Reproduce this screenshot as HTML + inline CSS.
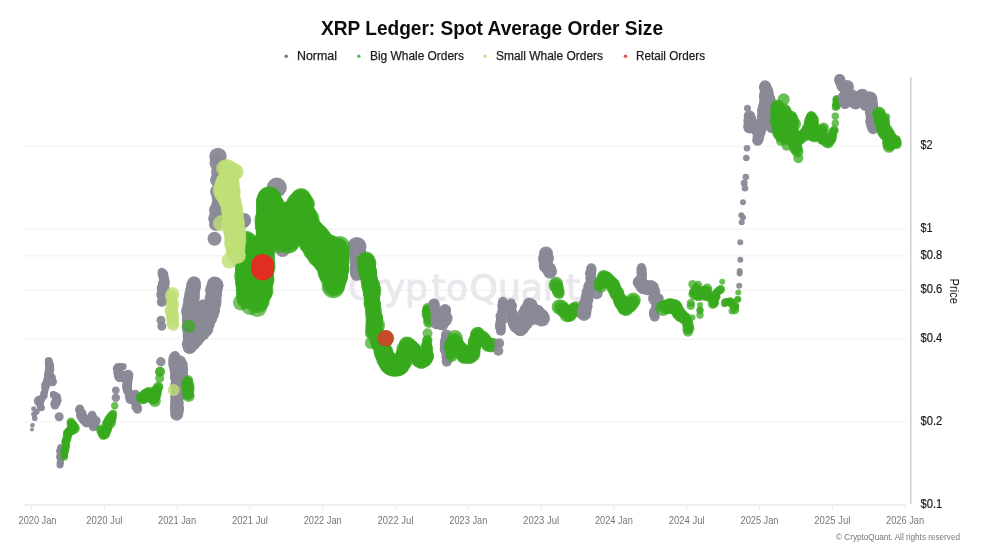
<!DOCTYPE html>
<html lang="en"><head><meta charset="utf-8"><title>XRP Ledger: Spot Average Order Size</title>
<style>
html,body{margin:0;padding:0;background:#fff;}
body{width:984px;height:554px;overflow:hidden;font-family:"Liberation Sans",sans-serif;}
svg{display:block;font-family:"Liberation Sans",sans-serif;}
</style></head><body>
<svg width="984" height="554" viewBox="0 0 984 554">
<rect width="984" height="554" fill="#fff"/>
<text x="492" y="35" text-anchor="middle" font-size="19.5" font-weight="bold" fill="#0d0d0d" textLength="342" lengthAdjust="spacingAndGlyphs">XRP Ledger: Spot Average Order Size</text>
<g font-size="12.5" fill="#1c1c1c" stroke="#1c1c1c" stroke-width="0.25">
<circle stroke="none" cx="286.2" cy="56.3" r="1.8" fill="#7d7d85"/><text x="297" y="59.8" textLength="40" lengthAdjust="spacingAndGlyphs">Normal</text>
<circle stroke="none" cx="358.8" cy="56.3" r="1.8" fill="#5cb85c"/><text x="370" y="59.8" textLength="94" lengthAdjust="spacingAndGlyphs">Big Whale Orders</text>
<circle stroke="none" cx="485" cy="56.3" r="1.8" fill="#c5e08a"/><text x="496" y="59.8" textLength="107" lengthAdjust="spacingAndGlyphs">Small Whale Orders</text>
<circle stroke="none" cx="625.5" cy="56.3" r="1.8" fill="#e0524d"/><text x="636" y="59.8" textLength="69" lengthAdjust="spacingAndGlyphs">Retail Orders</text>
</g>
<g><line x1="24" x2="905" y1="421.9" y2="421.9" stroke="#f4f4f5" stroke-width="1.2"/><line x1="24" x2="905" y1="338.9" y2="338.9" stroke="#f4f4f5" stroke-width="1.2"/><line x1="24" x2="905" y1="290.4" y2="290.4" stroke="#f4f4f5" stroke-width="1.2"/><line x1="24" x2="905" y1="255.9" y2="255.9" stroke="#f4f4f5" stroke-width="1.2"/><line x1="24" x2="905" y1="229.2" y2="229.2" stroke="#f4f4f5" stroke-width="1.2"/><line x1="24" x2="905" y1="146.2" y2="146.2" stroke="#f4f4f5" stroke-width="1.2"/></g>
<text x="348 370.5 384 405 431.5 446 469.6 498 520.8 543 566" y="300" font-family="'DejaVu Sans','Liberation Sans',sans-serif" font-size="36" fill="#e8e8ed" stroke="#e8e8ed" stroke-width="1.1">CryptoQuant</text>
<line x1="24" x2="905.5" y1="505" y2="505" stroke="#e8e8ea" stroke-width="1.3"/>
<line x1="31.5" x2="31.5" y1="505" y2="510" stroke="#ebebed" stroke-width="1"/><line x1="104.3" x2="104.3" y1="505" y2="510" stroke="#ebebed" stroke-width="1"/><line x1="177.1" x2="177.1" y1="505" y2="510" stroke="#ebebed" stroke-width="1"/><line x1="249.9" x2="249.9" y1="505" y2="510" stroke="#ebebed" stroke-width="1"/><line x1="322.7" x2="322.7" y1="505" y2="510" stroke="#ebebed" stroke-width="1"/><line x1="395.5" x2="395.5" y1="505" y2="510" stroke="#ebebed" stroke-width="1"/><line x1="468.3" x2="468.3" y1="505" y2="510" stroke="#ebebed" stroke-width="1"/><line x1="541.1" x2="541.1" y1="505" y2="510" stroke="#ebebed" stroke-width="1"/><line x1="613.9" x2="613.9" y1="505" y2="510" stroke="#ebebed" stroke-width="1"/><line x1="686.7" x2="686.7" y1="505" y2="510" stroke="#ebebed" stroke-width="1"/><line x1="759.5" x2="759.5" y1="505" y2="510" stroke="#ebebed" stroke-width="1"/><line x1="832.3" x2="832.3" y1="505" y2="510" stroke="#ebebed" stroke-width="1"/><line x1="905.1" x2="905.1" y1="505" y2="510" stroke="#ebebed" stroke-width="1"/>
<line x1="910.8" x2="910.8" y1="77" y2="504" stroke="#cfcfd2" stroke-width="1.5"/>
<g font-size="11" fill="#777"><text x="37.5" y="523.5" text-anchor="middle" textLength="38" lengthAdjust="spacingAndGlyphs">2020 Jan</text><text x="104.3" y="523.5" text-anchor="middle" textLength="36" lengthAdjust="spacingAndGlyphs">2020 Jul</text><text x="177.1" y="523.5" text-anchor="middle" textLength="38" lengthAdjust="spacingAndGlyphs">2021 Jan</text><text x="249.9" y="523.5" text-anchor="middle" textLength="36" lengthAdjust="spacingAndGlyphs">2021 Jul</text><text x="322.7" y="523.5" text-anchor="middle" textLength="38" lengthAdjust="spacingAndGlyphs">2022 Jan</text><text x="395.5" y="523.5" text-anchor="middle" textLength="36" lengthAdjust="spacingAndGlyphs">2022 Jul</text><text x="468.3" y="523.5" text-anchor="middle" textLength="38" lengthAdjust="spacingAndGlyphs">2023 Jan</text><text x="541.1" y="523.5" text-anchor="middle" textLength="36" lengthAdjust="spacingAndGlyphs">2023 Jul</text><text x="613.9" y="523.5" text-anchor="middle" textLength="38" lengthAdjust="spacingAndGlyphs">2024 Jan</text><text x="686.7" y="523.5" text-anchor="middle" textLength="36" lengthAdjust="spacingAndGlyphs">2024 Jul</text><text x="759.5" y="523.5" text-anchor="middle" textLength="38" lengthAdjust="spacingAndGlyphs">2025 Jan</text><text x="832.3" y="523.5" text-anchor="middle" textLength="36" lengthAdjust="spacingAndGlyphs">2025 Jul</text><text x="905.1" y="523.5" text-anchor="middle" textLength="38" lengthAdjust="spacingAndGlyphs">2026 Jan</text></g>
<g font-size="12.5" fill="#1c1c1c" stroke="#1c1c1c" stroke-width="0.2"><text x="920.5" y="507.7" textLength="21.8" lengthAdjust="spacingAndGlyphs">$0.1</text><text x="920.5" y="424.7" textLength="21.8" lengthAdjust="spacingAndGlyphs">$0.2</text><text x="920.5" y="341.7" textLength="21.8" lengthAdjust="spacingAndGlyphs">$0.4</text><text x="920.5" y="293.2" textLength="21.8" lengthAdjust="spacingAndGlyphs">$0.6</text><text x="920.5" y="258.7" textLength="21.8" lengthAdjust="spacingAndGlyphs">$0.8</text><text x="920.5" y="232.0" textLength="12" lengthAdjust="spacingAndGlyphs">$1</text><text x="920.5" y="149.0" textLength="12" lengthAdjust="spacingAndGlyphs">$2</text></g>
<text transform="translate(950,291.2) rotate(90)" text-anchor="middle" font-size="12.5" fill="#1c1c1c" textLength="25.5" lengthAdjust="spacingAndGlyphs">Price</text>
<text x="836" y="539.8" font-size="9" fill="#777" textLength="124" lengthAdjust="spacingAndGlyphs">© CryptoQuant. All rights reserved</text>
<g id="bubbles">
<g fill="#8a8997" fill-opacity="0.95"><circle cx="32.0" cy="429.5" r="2.0"/><circle cx="32.5" cy="425.3" r="2.3"/><circle cx="34.7" cy="418.3" r="2.8"/><circle cx="34.2" cy="414.2" r="3.0"/><circle cx="33.7" cy="408.7" r="2.5"/><circle cx="36.7" cy="411.7" r="3.0"/></g>
<g fill="#8a8997" fill-opacity="0.95"><circle cx="41.4" cy="407.7" r="3.5"/><circle cx="40.4" cy="406.9" r="3.5"/><circle cx="39.9" cy="405.3" r="3.5"/><circle cx="40.1" cy="403.0" r="3.7"/><circle cx="39.6" cy="402.9" r="3.9"/><circle cx="38.7" cy="401.0" r="4.9"/><circle cx="40.6" cy="399.7" r="4.5"/><circle cx="40.9" cy="399.6" r="3.6"/><circle cx="42.4" cy="397.3" r="3.2"/><circle cx="44.0" cy="396.2" r="3.4"/><circle cx="44.1" cy="395.2" r="3.4"/><circle cx="43.4" cy="393.4" r="3.2"/><circle cx="44.7" cy="392.6" r="3.2"/><circle cx="44.8" cy="391.2" r="3.2"/><circle cx="45.3" cy="390.1" r="3.2"/><circle cx="45.1" cy="388.3" r="3.6"/><circle cx="45.8" cy="386.6" r="3.9"/><circle cx="45.0" cy="385.5" r="3.9"/><circle cx="45.4" cy="384.3" r="3.6"/><circle cx="46.7" cy="383.5" r="4.2"/><circle cx="47.4" cy="381.4" r="4.5"/><circle cx="47.3" cy="380.4" r="4.2"/><circle cx="48.2" cy="379.6" r="4.2"/><circle cx="48.3" cy="376.6" r="4.4"/><circle cx="48.7" cy="376.9" r="4.4"/><circle cx="48.5" cy="374.4" r="4.3"/><circle cx="48.4" cy="373.1" r="3.8"/><circle cx="49.0" cy="370.9" r="4.3"/><circle cx="49.0" cy="369.7" r="3.9"/><circle cx="50.2" cy="367.8" r="3.9"/><circle cx="49.6" cy="367.7" r="4.2"/><circle cx="50.1" cy="365.1" r="3.9"/><circle cx="49.1" cy="364.6" r="4.3"/><circle cx="48.6" cy="361.8" r="3.7"/><circle cx="48.7" cy="360.8" r="3.9"/><circle cx="48.8" cy="361.5" r="3.8"/><circle cx="49.1" cy="364.0" r="4.3"/><circle cx="49.8" cy="365.5" r="4.0"/><circle cx="49.8" cy="366.2" r="4.3"/><circle cx="50.1" cy="369.3" r="4.2"/><circle cx="49.4" cy="370.0" r="3.7"/><circle cx="49.9" cy="370.9" r="3.7"/><circle cx="49.6" cy="372.5" r="3.9"/><circle cx="49.7" cy="373.7" r="3.8"/><circle cx="50.2" cy="375.7" r="3.7"/><circle cx="52.0" cy="377.6" r="3.9"/><circle cx="51.3" cy="378.6" r="4.1"/><circle cx="51.4" cy="380.9" r="4.7"/><circle cx="52.5" cy="381.7" r="4.5"/></g>
<g fill="#8a8997" fill-opacity="0.95"><circle cx="53.2" cy="394.2" r="3.2"/><circle cx="53.4" cy="394.9" r="3.6"/><circle cx="55.6" cy="395.6" r="3.5"/><circle cx="56.7" cy="397.3" r="3.8"/><circle cx="56.8" cy="397.4" r="4.3"/><circle cx="57.2" cy="400.3" r="4.5"/><circle cx="55.6" cy="400.7" r="4.0"/><circle cx="56.2" cy="402.4" r="4.6"/><circle cx="55.0" cy="403.2" r="4.6"/><circle cx="55.0" cy="405.0" r="4.5"/></g>
<g fill="#8a8997" fill-opacity="0.95"><circle cx="59.2" cy="416.7" r="4.5"/></g>
<g fill="#8a8997" fill-opacity="0.95"><circle cx="60.8" cy="447.6" r="3.6"/><circle cx="60.5" cy="448.9" r="3.2"/><circle cx="60.0" cy="449.8" r="3.0"/><circle cx="59.2" cy="451.1" r="3.2"/><circle cx="60.3" cy="453.7" r="3.3"/><circle cx="60.7" cy="455.3" r="3.7"/><circle cx="59.8" cy="455.6" r="3.2"/><circle cx="59.5" cy="457.0" r="3.4"/><circle cx="60.6" cy="459.5" r="3.3"/><circle cx="60.2" cy="461.0" r="3.1"/><circle cx="60.3" cy="462.7" r="3.6"/><circle cx="60.4" cy="463.5" r="3.1"/><circle cx="60.0" cy="465.0" r="3.5"/></g>
<g fill="#38a91e" fill-opacity="0.75"><circle cx="64.2" cy="457.2" r="3.6"/><circle cx="64.6" cy="455.9" r="3.4"/><circle cx="64.8" cy="455.0" r="3.3"/><circle cx="63.7" cy="452.7" r="3.9"/><circle cx="64.9" cy="451.2" r="3.9"/><circle cx="65.4" cy="450.6" r="3.6"/><circle cx="64.9" cy="448.3" r="3.4"/><circle cx="65.8" cy="447.7" r="3.9"/><circle cx="65.9" cy="445.9" r="4.2"/><circle cx="66.0" cy="444.0" r="3.8"/><circle cx="65.4" cy="442.5" r="4.2"/><circle cx="65.6" cy="441.2" r="3.9"/><circle cx="66.9" cy="439.6" r="4.3"/><circle cx="66.6" cy="438.9" r="4.3"/><circle cx="67.4" cy="436.7" r="4.5"/><circle cx="67.6" cy="434.5" r="4.5"/><circle cx="67.8" cy="433.1" r="4.9"/><circle cx="68.7" cy="432.4" r="4.9"/><circle cx="70.1" cy="430.7" r="4.8"/><circle cx="71.2" cy="430.6" r="4.8"/><circle cx="72.3" cy="428.8" r="5.4"/><circle cx="73.7" cy="428.3" r="6.1"/><circle cx="73.2" cy="427.6" r="5.6"/><circle cx="72.5" cy="425.7" r="5.3"/><circle cx="72.1" cy="424.3" r="4.9"/><circle cx="71.3" cy="423.7" r="4.6"/><circle cx="70.8" cy="421.7" r="4.2"/></g>
<g fill="#8a8997" fill-opacity="0.95"><circle cx="79.9" cy="408.3" r="3.8"/><circle cx="79.8" cy="409.6" r="4.5"/><circle cx="79.5" cy="409.5" r="4.3"/><circle cx="79.9" cy="411.1" r="4.1"/><circle cx="81.5" cy="413.4" r="5.0"/><circle cx="81.1" cy="414.6" r="5.0"/><circle cx="81.8" cy="416.2" r="5.3"/><circle cx="82.6" cy="417.6" r="4.8"/><circle cx="83.8" cy="419.0" r="5.4"/><circle cx="83.9" cy="419.3" r="5.1"/><circle cx="85.0" cy="420.2" r="4.9"/><circle cx="86.4" cy="421.1" r="5.3"/><circle cx="86.6" cy="422.4" r="5.1"/><circle cx="87.9" cy="422.1" r="4.6"/><circle cx="89.5" cy="421.3" r="5.3"/><circle cx="88.9" cy="419.1" r="4.2"/><circle cx="91.1" cy="417.9" r="4.1"/><circle cx="91.4" cy="417.8" r="4.5"/><circle cx="92.1" cy="415.2" r="4.4"/><circle cx="93.3" cy="417.6" r="3.9"/><circle cx="93.0" cy="419.1" r="4.3"/><circle cx="93.6" cy="421.0" r="4.7"/><circle cx="95.5" cy="421.0" r="5.2"/><circle cx="93.8" cy="423.6" r="4.6"/><circle cx="93.9" cy="424.3" r="5.0"/><circle cx="93.3" cy="424.8" r="4.5"/><circle cx="93.3" cy="426.7" r="4.5"/></g>
<g fill="#38a91e" fill-opacity="0.75"><circle cx="101.2" cy="429.3" r="4.9"/><circle cx="101.5" cy="430.9" r="5.1"/><circle cx="102.6" cy="433.4" r="5.0"/><circle cx="103.6" cy="433.8" r="5.1"/><circle cx="103.3" cy="435.4" r="4.7"/><circle cx="105.1" cy="434.4" r="4.9"/><circle cx="105.1" cy="433.6" r="4.7"/><circle cx="106.2" cy="431.3" r="5.0"/><circle cx="106.7" cy="429.7" r="5.0"/><circle cx="106.9" cy="429.3" r="4.7"/><circle cx="107.6" cy="427.4" r="4.9"/><circle cx="107.4" cy="425.5" r="4.6"/><circle cx="107.5" cy="423.7" r="5.6"/><circle cx="108.4" cy="422.7" r="5.1"/><circle cx="110.0" cy="422.7" r="6.0"/><circle cx="109.6" cy="420.3" r="5.8"/><circle cx="110.6" cy="418.7" r="5.5"/><circle cx="110.9" cy="418.6" r="5.5"/><circle cx="112.1" cy="415.8" r="5.0"/><circle cx="112.3" cy="414.5" r="3.6"/><circle cx="113.3" cy="413.3" r="3.7"/></g>
<g fill="#38a91e" fill-opacity="0.75"><circle cx="114.7" cy="405.8" r="3.7"/></g>
<g fill="#8a8997" fill-opacity="0.95"><circle cx="115.8" cy="397.8" r="4.2"/><circle cx="115.8" cy="390.3" r="3.8"/></g>
<g fill="#8a8997" fill-opacity="0.95"><circle cx="123.1" cy="366.7" r="3.6"/><circle cx="121.3" cy="367.1" r="3.4"/><circle cx="120.0" cy="366.8" r="3.9"/><circle cx="118.1" cy="367.0" r="4.0"/><circle cx="117.0" cy="368.5" r="4.3"/><circle cx="118.1" cy="370.0" r="4.6"/><circle cx="118.4" cy="370.9" r="4.3"/><circle cx="118.8" cy="371.9" r="4.8"/><circle cx="118.3" cy="373.1" r="5.0"/><circle cx="118.9" cy="375.5" r="4.9"/><circle cx="118.9" cy="376.1" r="4.8"/><circle cx="119.7" cy="377.2" r="5.1"/><circle cx="121.7" cy="376.6" r="5.2"/><circle cx="122.9" cy="376.7" r="4.5"/><circle cx="123.2" cy="375.5" r="4.7"/><circle cx="124.7" cy="376.7" r="4.9"/><circle cx="127.1" cy="376.2" r="5.0"/><circle cx="128.3" cy="374.9" r="5.1"/><circle cx="128.4" cy="377.3" r="4.8"/><circle cx="127.9" cy="378.0" r="5.0"/><circle cx="126.9" cy="379.5" r="4.6"/><circle cx="127.4" cy="381.3" r="5.0"/><circle cx="127.6" cy="383.3" r="4.7"/><circle cx="127.0" cy="385.1" r="5.0"/><circle cx="127.6" cy="386.6" r="4.3"/><circle cx="127.0" cy="387.4" r="4.9"/><circle cx="127.6" cy="389.4" r="4.1"/><circle cx="127.5" cy="390.4" r="4.7"/><circle cx="129.1" cy="392.6" r="4.3"/><circle cx="129.2" cy="393.8" r="4.5"/><circle cx="128.9" cy="396.1" r="4.2"/><circle cx="130.8" cy="397.7" r="4.1"/><circle cx="130.3" cy="399.0" r="5.0"/><circle cx="130.7" cy="399.6" r="4.2"/><circle cx="132.4" cy="398.1" r="4.5"/><circle cx="131.8" cy="397.4" r="4.6"/><circle cx="132.7" cy="396.6" r="4.1"/><circle cx="134.9" cy="395.0" r="3.8"/><circle cx="135.7" cy="393.3" r="3.5"/><circle cx="134.1" cy="394.7" r="3.9"/><circle cx="134.6" cy="395.5" r="3.8"/><circle cx="134.7" cy="398.2" r="3.6"/><circle cx="135.5" cy="399.6" r="3.8"/><circle cx="135.8" cy="400.8" r="4.5"/><circle cx="134.6" cy="401.6" r="4.2"/><circle cx="135.9" cy="403.5" r="4.2"/><circle cx="135.5" cy="404.4" r="3.9"/><circle cx="135.5" cy="406.9" r="4.1"/><circle cx="137.7" cy="407.3" r="4.1"/><circle cx="137.5" cy="409.2" r="4.5"/></g>
<g fill="#38a91e" fill-opacity="0.75"><circle cx="140.8" cy="397.7" r="5.1"/><circle cx="142.7" cy="398.2" r="6.0"/><circle cx="143.2" cy="397.5" r="6.5"/><circle cx="144.1" cy="396.4" r="5.7"/><circle cx="145.9" cy="395.3" r="6.7"/><circle cx="147.1" cy="394.4" r="5.9"/><circle cx="149.1" cy="393.5" r="6.7"/><circle cx="148.9" cy="394.8" r="6.9"/><circle cx="151.0" cy="395.6" r="6.6"/><circle cx="150.6" cy="397.1" r="6.1"/><circle cx="151.5" cy="397.4" r="5.8"/><circle cx="153.9" cy="399.0" r="5.8"/><circle cx="154.9" cy="400.9" r="6.0"/><circle cx="154.0" cy="397.9" r="5.4"/><circle cx="154.8" cy="396.3" r="5.4"/><circle cx="155.1" cy="395.6" r="5.9"/><circle cx="156.4" cy="393.8" r="5.2"/><circle cx="156.5" cy="392.3" r="5.0"/><circle cx="156.1" cy="390.7" r="5.6"/><circle cx="156.7" cy="389.6" r="5.1"/><circle cx="158.5" cy="387.6" r="4.7"/><circle cx="158.3" cy="386.7" r="5.0"/></g>
<g fill="#38a91e" fill-opacity="0.75"><circle cx="159.7" cy="378.3" r="4.5"/></g>
<g fill="#38a91e" fill-opacity="0.90"><circle cx="160.0" cy="371.7" r="5.0"/></g>
<g fill="#8a8997" fill-opacity="0.95"><circle cx="160.8" cy="361.7" r="4.7"/></g>
<g fill="#8a8997" fill-opacity="0.95"><circle cx="174.6" cy="358.1" r="6.0"/><circle cx="175.9" cy="360.4" r="6.5"/><circle cx="174.6" cy="360.6" r="6.4"/><circle cx="176.1" cy="362.8" r="6.2"/><circle cx="174.9" cy="364.2" r="6.7"/><circle cx="176.4" cy="366.5" r="6.8"/><circle cx="175.6" cy="366.8" r="5.7"/><circle cx="176.2" cy="369.2" r="6.8"/><circle cx="176.7" cy="370.7" r="6.6"/><circle cx="176.4" cy="372.1" r="5.6"/><circle cx="177.0" cy="373.1" r="6.8"/><circle cx="176.9" cy="374.7" r="5.8"/><circle cx="176.4" cy="376.7" r="6.5"/><circle cx="176.2" cy="377.3" r="6.3"/><circle cx="177.0" cy="379.3" r="5.9"/><circle cx="177.2" cy="380.2" r="6.0"/><circle cx="177.0" cy="383.2" r="6.4"/><circle cx="177.8" cy="384.0" r="5.9"/><circle cx="176.8" cy="386.2" r="6.5"/><circle cx="177.0" cy="386.2" r="6.2"/><circle cx="177.7" cy="388.4" r="5.9"/><circle cx="177.8" cy="390.7" r="5.9"/><circle cx="176.7" cy="391.2" r="6.1"/><circle cx="177.7" cy="392.5" r="6.6"/><circle cx="177.7" cy="394.5" r="5.9"/><circle cx="178.1" cy="395.7" r="6.7"/><circle cx="176.8" cy="397.1" r="6.6"/><circle cx="176.9" cy="399.7" r="6.2"/><circle cx="176.6" cy="400.1" r="6.1"/><circle cx="177.4" cy="402.7" r="5.8"/><circle cx="176.9" cy="403.0" r="6.9"/><circle cx="176.4" cy="404.3" r="5.7"/><circle cx="176.8" cy="407.2" r="6.7"/><circle cx="177.3" cy="408.9" r="6.8"/><circle cx="176.6" cy="409.1" r="6.8"/><circle cx="177.2" cy="410.4" r="6.5"/><circle cx="176.6" cy="412.5" r="6.0"/><circle cx="176.7" cy="414.2" r="6.5"/></g>
<g fill="#8a8997" fill-opacity="0.95"><circle cx="180.4" cy="361.1" r="5.5"/><circle cx="180.9" cy="364.3" r="5.3"/><circle cx="182.2" cy="364.5" r="5.5"/><circle cx="182.1" cy="367.1" r="5.6"/><circle cx="180.9" cy="368.0" r="5.5"/><circle cx="182.6" cy="368.9" r="5.4"/><circle cx="182.7" cy="370.2" r="5.4"/><circle cx="182.7" cy="373.0" r="5.0"/><circle cx="181.5" cy="373.2" r="5.9"/><circle cx="182.1" cy="375.9" r="5.8"/><circle cx="182.4" cy="376.6" r="5.9"/><circle cx="183.0" cy="378.1" r="5.6"/><circle cx="182.7" cy="379.6" r="4.7"/><circle cx="183.4" cy="382.2" r="5.4"/><circle cx="183.6" cy="382.1" r="4.9"/><circle cx="182.7" cy="385.3" r="5.6"/><circle cx="182.4" cy="385.6" r="5.0"/><circle cx="182.5" cy="388.3" r="4.7"/><circle cx="182.9" cy="389.4" r="5.3"/><circle cx="182.8" cy="390.7" r="4.8"/><circle cx="181.9" cy="391.8" r="5.2"/><circle cx="181.3" cy="393.0" r="5.1"/><circle cx="182.0" cy="395.0" r="5.0"/></g>
<g fill="#8a8997" fill-opacity="0.95"><circle cx="161.8" cy="272.0" r="4.3"/><circle cx="162.9" cy="274.0" r="5.3"/><circle cx="164.0" cy="276.6" r="4.6"/><circle cx="163.1" cy="276.5" r="4.8"/><circle cx="164.7" cy="278.6" r="4.5"/><circle cx="164.0" cy="280.3" r="5.1"/><circle cx="164.5" cy="282.1" r="5.3"/><circle cx="163.2" cy="283.5" r="5.1"/><circle cx="163.9" cy="284.0" r="5.7"/><circle cx="163.1" cy="285.2" r="5.3"/><circle cx="162.9" cy="287.7" r="5.9"/><circle cx="163.1" cy="288.2" r="6.3"/><circle cx="163.2" cy="289.3" r="6.0"/><circle cx="163.4" cy="292.0" r="5.1"/><circle cx="162.9" cy="293.1" r="5.8"/><circle cx="163.6" cy="293.1" r="5.1"/><circle cx="162.0" cy="294.7" r="5.8"/><circle cx="162.7" cy="297.4" r="5.0"/><circle cx="163.0" cy="297.9" r="4.8"/><circle cx="162.7" cy="300.1" r="4.6"/><circle cx="162.2" cy="300.9" r="4.6"/><circle cx="161.8" cy="302.0" r="5.0"/></g>
<g fill="#8a8997" fill-opacity="0.95"><circle cx="161.0" cy="320.3" r="4.5"/><circle cx="161.8" cy="326.2" r="4.5"/></g>
<g fill="#8a8997" fill-opacity="0.95"><circle cx="175.0" cy="356.0" r="5.0"/></g>
<g fill="#8a8997" fill-opacity="0.95"><circle cx="194.1" cy="283.1" r="6.8"/><circle cx="193.6" cy="285.3" r="7.4"/><circle cx="193.3" cy="285.7" r="6.9"/><circle cx="193.9" cy="287.4" r="6.9"/><circle cx="192.8" cy="290.0" r="7.3"/><circle cx="192.4" cy="290.1" r="7.0"/><circle cx="193.0" cy="292.5" r="6.6"/><circle cx="192.1" cy="294.1" r="7.1"/><circle cx="192.1" cy="294.8" r="7.9"/><circle cx="191.9" cy="296.7" r="7.0"/><circle cx="191.8" cy="298.7" r="7.9"/><circle cx="191.5" cy="299.0" r="7.5"/><circle cx="190.9" cy="300.2" r="7.8"/><circle cx="191.0" cy="303.2" r="7.1"/><circle cx="191.6" cy="304.2" r="6.7"/><circle cx="189.7" cy="305.9" r="7.4"/><circle cx="191.1" cy="306.6" r="7.4"/><circle cx="189.8" cy="308.9" r="6.7"/><circle cx="189.4" cy="310.5" r="7.8"/><circle cx="188.8" cy="312.0" r="7.7"/><circle cx="190.4" cy="313.0" r="6.6"/><circle cx="190.3" cy="315.9" r="7.1"/><circle cx="188.7" cy="317.3" r="6.9"/><circle cx="190.3" cy="318.2" r="7.5"/><circle cx="189.0" cy="320.0" r="6.6"/><circle cx="189.4" cy="321.6" r="7.4"/><circle cx="189.0" cy="322.0" r="6.8"/><circle cx="189.7" cy="323.8" r="6.3"/><circle cx="189.2" cy="325.9" r="7.4"/><circle cx="188.8" cy="327.1" r="7.2"/><circle cx="188.9" cy="329.1" r="6.2"/><circle cx="189.9" cy="330.1" r="6.9"/><circle cx="189.4" cy="331.4" r="6.8"/><circle cx="189.6" cy="333.4" r="6.6"/><circle cx="189.6" cy="333.8" r="6.9"/><circle cx="189.7" cy="335.7" r="7.1"/><circle cx="190.2" cy="337.7" r="6.3"/><circle cx="189.7" cy="338.6" r="6.2"/><circle cx="189.6" cy="340.1" r="6.6"/><circle cx="189.7" cy="341.5" r="6.9"/><circle cx="188.9" cy="344.3" r="7.1"/><circle cx="189.7" cy="344.7" r="6.7"/><circle cx="189.7" cy="347.0" r="7.0"/></g>
<g fill="#8a8997" fill-opacity="0.95"><circle cx="214.5" cy="283.6" r="7.1"/><circle cx="215.2" cy="285.3" r="8.1"/><circle cx="215.0" cy="285.4" r="8.5"/><circle cx="214.4" cy="288.3" r="8.3"/><circle cx="213.7" cy="289.6" r="8.4"/><circle cx="213.4" cy="290.3" r="8.1"/><circle cx="213.4" cy="292.9" r="7.3"/><circle cx="214.5" cy="293.1" r="7.7"/><circle cx="214.6" cy="294.8" r="7.3"/><circle cx="213.7" cy="296.5" r="6.9"/><circle cx="213.0" cy="297.8" r="8.4"/><circle cx="213.8" cy="300.7" r="7.1"/><circle cx="213.8" cy="300.8" r="7.7"/><circle cx="213.2" cy="302.7" r="8.2"/><circle cx="212.8" cy="304.6" r="8.1"/><circle cx="211.8" cy="306.9" r="7.7"/><circle cx="212.1" cy="308.0" r="7.1"/><circle cx="212.9" cy="309.1" r="7.2"/><circle cx="212.2" cy="310.4" r="6.8"/><circle cx="211.9" cy="311.2" r="7.8"/><circle cx="210.8" cy="313.8" r="8.0"/><circle cx="211.2" cy="315.3" r="6.9"/><circle cx="209.7" cy="315.6" r="6.6"/><circle cx="210.3" cy="317.8" r="7.1"/><circle cx="210.4" cy="318.7" r="6.6"/><circle cx="209.5" cy="319.9" r="6.3"/><circle cx="208.5" cy="321.5" r="6.7"/><circle cx="207.8" cy="323.8" r="7.0"/><circle cx="207.4" cy="325.3" r="6.8"/><circle cx="206.8" cy="327.3" r="6.4"/><circle cx="206.4" cy="327.3" r="6.9"/><circle cx="206.7" cy="329.7" r="6.5"/><circle cx="204.6" cy="329.4" r="6.8"/><circle cx="204.1" cy="331.2" r="6.7"/><circle cx="202.9" cy="333.4" r="6.8"/><circle cx="201.5" cy="334.4" r="5.8"/><circle cx="201.1" cy="334.7" r="6.0"/><circle cx="200.0" cy="336.0" r="6.5"/></g>
<g fill="#8a8997" fill-opacity="0.95"><circle cx="203.2" cy="304.5" r="5.2"/><circle cx="203.6" cy="306.1" r="5.6"/><circle cx="202.5" cy="306.9" r="6.4"/><circle cx="202.8" cy="308.6" r="6.3"/><circle cx="201.7" cy="309.0" r="6.4"/><circle cx="202.2" cy="311.2" r="7.7"/><circle cx="200.1" cy="312.6" r="8.1"/><circle cx="200.5" cy="313.8" r="7.5"/><circle cx="199.7" cy="314.1" r="7.1"/><circle cx="199.0" cy="315.9" r="7.8"/><circle cx="199.8" cy="318.2" r="7.6"/><circle cx="198.6" cy="319.1" r="7.1"/><circle cx="199.1" cy="320.4" r="6.8"/><circle cx="198.5" cy="322.6" r="6.6"/><circle cx="198.5" cy="322.3" r="6.6"/><circle cx="196.9" cy="325.0" r="7.4"/><circle cx="197.4" cy="325.7" r="7.3"/><circle cx="196.3" cy="327.0" r="7.2"/><circle cx="196.5" cy="329.3" r="6.7"/><circle cx="196.7" cy="330.4" r="6.8"/><circle cx="195.9" cy="332.6" r="6.2"/><circle cx="195.5" cy="333.6" r="5.9"/><circle cx="194.2" cy="335.2" r="5.5"/><circle cx="195.1" cy="335.9" r="5.3"/><circle cx="194.0" cy="338.0" r="6.0"/></g>
<g fill="#8a8997" fill-opacity="0.95"><circle cx="189.3" cy="346.8" r="6.5"/><circle cx="190.5" cy="344.2" r="5.9"/><circle cx="192.7" cy="344.2" r="6.7"/><circle cx="193.9" cy="342.2" r="6.4"/><circle cx="194.4" cy="342.6" r="6.5"/><circle cx="196.5" cy="340.2" r="6.4"/><circle cx="197.7" cy="340.8" r="5.3"/><circle cx="197.2" cy="338.1" r="5.2"/><circle cx="199.1" cy="338.1" r="5.9"/><circle cx="199.8" cy="336.5" r="5.5"/><circle cx="200.0" cy="335.0" r="6.0"/></g>
<g fill="#8a8997" fill-opacity="0.95"><circle cx="218.0" cy="156.5" r="8.7"/><circle cx="217.5" cy="163.0" r="8.0"/><circle cx="218.0" cy="172.0" r="7.0"/><circle cx="217.5" cy="180.0" r="7.5"/><circle cx="217.0" cy="191.7" r="7.0"/><circle cx="219.0" cy="203.3" r="7.5"/><circle cx="218.5" cy="197.0" r="7.0"/><circle cx="216.5" cy="210.0" r="7.5"/><circle cx="216.2" cy="218.3" r="8.0"/><circle cx="216.0" cy="224.0" r="7.0"/><circle cx="214.5" cy="238.7" r="7.0"/></g>
<g fill="#8a8997" fill-opacity="0.95"><circle cx="243.0" cy="221.5" r="7.0"/><circle cx="244.3" cy="220.0" r="7.0"/></g>
<g fill="#8a8997" fill-opacity="0.95"><circle cx="276.8" cy="187.5" r="10.0"/><circle cx="282.7" cy="250.0" r="7.0"/><circle cx="357.5" cy="246.7" r="9.0"/></g>
<g fill="#8a8997" fill-opacity="0.95"><circle cx="356.8" cy="246.0" r="9.1"/><circle cx="356.9" cy="247.9" r="8.3"/><circle cx="356.5" cy="249.3" r="7.9"/><circle cx="357.7" cy="251.1" r="7.8"/><circle cx="358.1" cy="252.8" r="8.4"/><circle cx="357.5" cy="253.5" r="7.5"/><circle cx="357.1" cy="256.4" r="7.2"/><circle cx="357.5" cy="257.5" r="6.9"/><circle cx="357.8" cy="258.2" r="7.6"/><circle cx="356.5" cy="259.6" r="6.5"/><circle cx="357.5" cy="262.9" r="6.0"/><circle cx="357.0" cy="263.4" r="7.0"/><circle cx="356.4" cy="264.9" r="6.3"/><circle cx="357.5" cy="265.9" r="7.0"/><circle cx="356.5" cy="267.3" r="6.6"/><circle cx="356.8" cy="268.5" r="6.4"/><circle cx="356.0" cy="271.2" r="6.3"/><circle cx="357.3" cy="272.3" r="5.8"/><circle cx="356.6" cy="273.4" r="6.3"/><circle cx="356.7" cy="275.0" r="6.0"/></g>
<g fill="#38a91e" fill-opacity="0.75"><circle cx="246.3" cy="240.7" r="8.7"/><circle cx="246.3" cy="241.1" r="10.4"/><circle cx="246.7" cy="242.9" r="10.4"/><circle cx="246.1" cy="244.5" r="9.7"/><circle cx="246.8" cy="246.6" r="9.9"/><circle cx="246.0" cy="247.4" r="8.9"/><circle cx="246.7" cy="249.5" r="10.1"/><circle cx="245.3" cy="250.7" r="10.1"/><circle cx="245.9" cy="251.6" r="9.5"/><circle cx="246.3" cy="253.4" r="9.0"/><circle cx="245.1" cy="255.8" r="10.3"/><circle cx="244.7" cy="256.3" r="9.1"/><circle cx="244.8" cy="258.5" r="8.9"/><circle cx="244.7" cy="259.4" r="10.6"/><circle cx="245.4" cy="260.8" r="10.5"/><circle cx="244.3" cy="262.7" r="10.6"/><circle cx="245.5" cy="264.8" r="9.5"/><circle cx="244.5" cy="266.1" r="8.8"/><circle cx="244.5" cy="267.2" r="8.7"/><circle cx="244.8" cy="269.3" r="10.0"/><circle cx="245.0" cy="270.5" r="9.5"/><circle cx="244.4" cy="272.0" r="9.4"/><circle cx="245.4" cy="274.0" r="9.5"/><circle cx="245.1" cy="275.2" r="9.4"/><circle cx="244.5" cy="276.6" r="10.4"/><circle cx="245.5" cy="278.0" r="10.3"/><circle cx="245.3" cy="279.4" r="9.5"/><circle cx="244.7" cy="280.8" r="8.8"/><circle cx="244.9" cy="282.6" r="10.0"/><circle cx="245.2" cy="283.1" r="9.4"/><circle cx="244.9" cy="285.2" r="9.4"/><circle cx="245.4" cy="287.3" r="8.9"/><circle cx="245.5" cy="288.5" r="9.2"/><circle cx="245.3" cy="290.4" r="8.4"/><circle cx="245.5" cy="290.4" r="9.8"/><circle cx="246.3" cy="292.5" r="8.4"/><circle cx="245.7" cy="294.1" r="9.4"/><circle cx="245.7" cy="295.8" r="9.5"/><circle cx="245.8" cy="296.8" r="9.7"/><circle cx="245.4" cy="298.8" r="8.5"/><circle cx="246.0" cy="300.0" r="9.0"/></g>
<g fill="#38a91e" fill-opacity="0.75"><circle cx="264.0" cy="249.3" r="12.2"/><circle cx="263.2" cy="250.7" r="10.6"/><circle cx="263.2" cy="252.2" r="10.9"/><circle cx="263.2" cy="255.0" r="10.8"/><circle cx="262.9" cy="255.7" r="11.8"/><circle cx="264.1" cy="257.7" r="10.6"/><circle cx="263.8" cy="259.0" r="10.6"/><circle cx="262.6" cy="261.3" r="12.0"/><circle cx="263.4" cy="262.3" r="11.5"/><circle cx="262.7" cy="264.7" r="11.0"/><circle cx="263.4" cy="266.0" r="12.2"/><circle cx="263.0" cy="266.6" r="11.6"/><circle cx="262.4" cy="269.1" r="11.1"/><circle cx="263.6" cy="269.6" r="11.2"/><circle cx="262.4" cy="271.4" r="10.7"/><circle cx="261.8" cy="273.5" r="10.9"/><circle cx="262.1" cy="274.3" r="11.4"/><circle cx="262.3" cy="276.4" r="11.7"/><circle cx="262.0" cy="278.5" r="12.2"/><circle cx="261.3" cy="279.8" r="12.3"/><circle cx="262.4" cy="280.1" r="12.0"/><circle cx="262.0" cy="281.4" r="10.1"/><circle cx="262.4" cy="284.1" r="10.6"/><circle cx="260.7" cy="284.7" r="10.5"/><circle cx="261.8" cy="286.6" r="10.3"/><circle cx="261.9" cy="289.0" r="10.3"/><circle cx="261.7" cy="290.2" r="11.7"/><circle cx="261.0" cy="292.2" r="11.5"/><circle cx="261.1" cy="292.3" r="11.2"/><circle cx="260.2" cy="294.8" r="10.4"/><circle cx="260.6" cy="295.9" r="9.9"/><circle cx="259.1" cy="296.6" r="10.2"/><circle cx="258.5" cy="298.6" r="9.3"/><circle cx="259.0" cy="300.1" r="10.0"/><circle cx="259.4" cy="300.7" r="10.5"/><circle cx="258.5" cy="303.0" r="10.0"/></g>
<g fill="#38a91e" fill-opacity="0.75"><circle cx="251.9" cy="245.1" r="9.9"/><circle cx="252.6" cy="246.3" r="9.4"/><circle cx="252.8" cy="247.2" r="9.9"/><circle cx="252.2" cy="248.6" r="9.8"/><circle cx="252.3" cy="251.7" r="9.3"/><circle cx="252.9" cy="252.5" r="9.6"/><circle cx="252.7" cy="253.1" r="10.0"/><circle cx="252.2" cy="255.1" r="10.3"/><circle cx="251.8" cy="256.8" r="9.7"/><circle cx="252.5" cy="257.9" r="9.5"/><circle cx="251.9" cy="260.0" r="10.3"/><circle cx="251.6" cy="261.9" r="9.4"/><circle cx="252.0" cy="262.4" r="9.6"/><circle cx="252.9" cy="264.6" r="10.2"/><circle cx="251.7" cy="265.5" r="9.2"/><circle cx="252.2" cy="267.5" r="10.2"/><circle cx="251.2" cy="269.2" r="10.4"/><circle cx="252.1" cy="269.5" r="9.2"/><circle cx="251.1" cy="271.2" r="10.4"/><circle cx="252.2" cy="273.5" r="10.2"/><circle cx="252.7" cy="274.9" r="9.8"/><circle cx="252.2" cy="276.6" r="9.8"/><circle cx="252.3" cy="277.2" r="9.9"/><circle cx="251.9" cy="279.7" r="8.8"/><circle cx="251.4" cy="279.8" r="10.1"/><circle cx="252.7" cy="282.4" r="9.3"/><circle cx="252.6" cy="284.2" r="9.7"/><circle cx="251.6" cy="284.8" r="9.4"/><circle cx="251.7" cy="286.5" r="9.9"/><circle cx="252.8" cy="287.3" r="9.7"/><circle cx="251.2" cy="288.9" r="10.2"/><circle cx="252.1" cy="291.8" r="9.5"/><circle cx="251.1" cy="292.4" r="9.8"/><circle cx="252.8" cy="294.9" r="9.6"/><circle cx="251.8" cy="294.8" r="9.9"/><circle cx="251.5" cy="296.4" r="8.6"/><circle cx="251.1" cy="298.8" r="8.8"/><circle cx="252.0" cy="300.0" r="10.0"/></g>
<g fill="#38a91e" fill-opacity="0.70"><circle cx="241.0" cy="302.5" r="8.0"/><circle cx="257.5" cy="307.5" r="9.5"/><circle cx="250.0" cy="306.0" r="9.0"/></g>
<g fill="#38a91e" fill-opacity="0.75"><circle cx="264.8" cy="244.3" r="9.3"/><circle cx="263.5" cy="242.6" r="9.2"/><circle cx="263.8" cy="242.3" r="8.4"/><circle cx="263.7" cy="240.9" r="9.5"/><circle cx="265.3" cy="239.3" r="8.4"/><circle cx="265.0" cy="237.7" r="9.3"/><circle cx="265.7" cy="235.3" r="10.4"/><circle cx="265.5" cy="233.4" r="8.7"/><circle cx="265.5" cy="233.3" r="9.0"/><circle cx="265.0" cy="231.6" r="9.3"/><circle cx="266.2" cy="229.6" r="9.2"/><circle cx="265.5" cy="228.2" r="10.1"/><circle cx="266.2" cy="225.9" r="11.1"/><circle cx="265.8" cy="225.3" r="10.8"/><circle cx="266.0" cy="223.3" r="11.2"/><circle cx="267.2" cy="222.5" r="10.8"/><circle cx="266.2" cy="219.8" r="11.8"/><circle cx="267.1" cy="219.7" r="10.4"/><circle cx="267.1" cy="218.4" r="11.6"/><circle cx="267.3" cy="215.8" r="10.7"/><circle cx="268.0" cy="214.4" r="11.4"/><circle cx="267.6" cy="213.8" r="11.7"/><circle cx="267.3" cy="210.8" r="10.5"/><circle cx="267.7" cy="210.3" r="11.8"/><circle cx="268.7" cy="207.9" r="11.9"/><circle cx="268.8" cy="207.9" r="11.4"/><circle cx="268.0" cy="206.3" r="12.0"/><circle cx="268.9" cy="205.0" r="10.9"/><circle cx="268.0" cy="202.8" r="12.1"/><circle cx="268.4" cy="201.7" r="12.4"/><circle cx="268.6" cy="200.0" r="11.9"/><circle cx="269.3" cy="198.3" r="12.0"/></g>
<g fill="#38a91e" fill-opacity="0.75"><circle cx="269.2" cy="197.8" r="10.9"/><circle cx="270.0" cy="200.3" r="11.4"/><circle cx="269.0" cy="201.9" r="12.2"/><circle cx="269.6" cy="203.0" r="12.5"/><circle cx="271.0" cy="204.4" r="11.5"/><circle cx="270.7" cy="205.3" r="10.8"/><circle cx="270.2" cy="207.8" r="11.2"/><circle cx="271.1" cy="208.8" r="11.6"/><circle cx="270.6" cy="209.6" r="12.7"/><circle cx="271.3" cy="211.3" r="11.8"/><circle cx="272.3" cy="212.9" r="11.8"/><circle cx="271.7" cy="215.0" r="10.4"/><circle cx="272.0" cy="217.0" r="12.4"/><circle cx="273.8" cy="217.3" r="10.9"/><circle cx="275.2" cy="218.2" r="12.6"/><circle cx="276.0" cy="220.0" r="12.6"/><circle cx="276.0" cy="219.7" r="10.8"/><circle cx="276.8" cy="220.9" r="10.4"/><circle cx="278.3" cy="223.4" r="11.4"/><circle cx="279.9" cy="224.6" r="10.5"/><circle cx="280.2" cy="224.8" r="10.6"/><circle cx="281.4" cy="225.9" r="11.7"/><circle cx="281.5" cy="228.4" r="11.9"/><circle cx="281.6" cy="228.8" r="10.7"/><circle cx="283.2" cy="231.1" r="10.9"/><circle cx="282.2" cy="231.1" r="11.2"/><circle cx="284.3" cy="233.5" r="12.3"/><circle cx="283.4" cy="234.6" r="12.0"/><circle cx="285.1" cy="236.3" r="10.5"/><circle cx="284.8" cy="237.2" r="12.6"/><circle cx="286.0" cy="238.0" r="12.0"/></g>
<g fill="#38a91e" fill-opacity="0.75"><circle cx="270.3" cy="229.6" r="11.7"/><circle cx="271.5" cy="228.3" r="11.0"/><circle cx="271.7" cy="227.3" r="11.3"/><circle cx="272.6" cy="226.5" r="10.5"/><circle cx="274.6" cy="225.1" r="11.8"/><circle cx="274.8" cy="224.2" r="12.2"/><circle cx="275.9" cy="224.8" r="12.0"/><circle cx="278.2" cy="222.4" r="10.9"/><circle cx="277.8" cy="222.8" r="11.8"/><circle cx="279.9" cy="220.9" r="10.5"/><circle cx="281.3" cy="220.0" r="11.1"/><circle cx="281.1" cy="218.5" r="9.8"/><circle cx="283.2" cy="218.1" r="9.9"/><circle cx="284.6" cy="216.6" r="10.4"/><circle cx="284.4" cy="215.6" r="11.3"/><circle cx="285.8" cy="214.4" r="10.4"/><circle cx="286.9" cy="214.7" r="9.5"/><circle cx="289.2" cy="212.2" r="11.0"/><circle cx="289.8" cy="211.5" r="10.0"/><circle cx="290.2" cy="210.6" r="9.3"/><circle cx="291.5" cy="210.9" r="10.9"/><circle cx="293.6" cy="208.3" r="9.3"/><circle cx="294.7" cy="207.2" r="10.1"/><circle cx="294.5" cy="207.6" r="8.6"/><circle cx="296.3" cy="205.2" r="8.9"/><circle cx="295.7" cy="204.8" r="9.7"/><circle cx="296.9" cy="202.9" r="10.4"/><circle cx="297.9" cy="201.9" r="8.9"/><circle cx="298.7" cy="201.0" r="10.0"/><circle cx="299.6" cy="198.5" r="8.8"/><circle cx="301.0" cy="198.0" r="10.0"/></g>
<g fill="#38a91e" fill-opacity="0.75"><circle cx="301.2" cy="198.0" r="9.1"/><circle cx="300.8" cy="199.6" r="10.1"/><circle cx="302.2" cy="201.0" r="9.2"/><circle cx="301.2" cy="202.7" r="9.7"/><circle cx="302.7" cy="202.9" r="10.6"/><circle cx="302.4" cy="205.7" r="10.8"/><circle cx="303.0" cy="205.6" r="10.9"/><circle cx="303.3" cy="208.6" r="9.7"/><circle cx="303.1" cy="209.9" r="10.0"/><circle cx="303.4" cy="210.5" r="10.5"/><circle cx="303.4" cy="212.2" r="10.3"/><circle cx="304.7" cy="212.9" r="10.9"/><circle cx="305.6" cy="215.7" r="10.2"/><circle cx="306.0" cy="216.2" r="11.2"/><circle cx="305.5" cy="218.4" r="11.7"/><circle cx="306.9" cy="219.1" r="10.9"/><circle cx="307.6" cy="219.6" r="12.0"/><circle cx="307.7" cy="221.2" r="10.1"/><circle cx="308.4" cy="223.8" r="10.0"/><circle cx="308.7" cy="224.9" r="10.5"/><circle cx="309.2" cy="226.1" r="11.4"/><circle cx="310.8" cy="227.6" r="10.4"/><circle cx="312.0" cy="229.0" r="10.3"/><circle cx="311.3" cy="230.0" r="11.5"/><circle cx="312.5" cy="230.5" r="11.3"/><circle cx="313.2" cy="232.5" r="12.4"/><circle cx="314.1" cy="233.7" r="12.1"/><circle cx="315.0" cy="235.3" r="12.6"/><circle cx="316.3" cy="235.8" r="12.3"/><circle cx="317.5" cy="236.9" r="12.6"/><circle cx="318.9" cy="238.0" r="10.9"/><circle cx="319.0" cy="239.3" r="12.7"/><circle cx="320.7" cy="241.4" r="12.3"/><circle cx="321.7" cy="241.0" r="11.6"/><circle cx="322.8" cy="243.8" r="10.9"/><circle cx="323.2" cy="243.9" r="11.1"/><circle cx="324.7" cy="243.6" r="11.2"/><circle cx="325.9" cy="244.2" r="10.4"/><circle cx="328.0" cy="246.3" r="12.1"/><circle cx="328.7" cy="247.1" r="11.9"/><circle cx="330.5" cy="246.4" r="11.3"/><circle cx="330.7" cy="248.2" r="10.3"/><circle cx="332.5" cy="249.4" r="11.0"/><circle cx="333.3" cy="249.3" r="10.5"/><circle cx="335.8" cy="249.6" r="10.1"/><circle cx="336.5" cy="248.3" r="10.5"/><circle cx="338.3" cy="248.0" r="9.6"/><circle cx="338.7" cy="247.1" r="9.1"/><circle cx="340.0" cy="246.0" r="10.0"/></g>
<g fill="#38a91e" fill-opacity="0.75"><circle cx="339.3" cy="249.3" r="9.2"/><circle cx="339.8" cy="251.1" r="9.1"/><circle cx="339.3" cy="253.1" r="10.3"/><circle cx="340.2" cy="254.6" r="9.9"/><circle cx="339.5" cy="256.4" r="9.5"/><circle cx="340.1" cy="257.7" r="9.5"/><circle cx="339.7" cy="258.5" r="9.0"/><circle cx="340.0" cy="260.3" r="9.8"/><circle cx="339.1" cy="261.7" r="10.3"/><circle cx="339.5" cy="263.6" r="9.6"/><circle cx="339.6" cy="265.9" r="9.2"/><circle cx="340.5" cy="265.9" r="8.7"/><circle cx="340.7" cy="267.9" r="8.7"/><circle cx="339.2" cy="269.2" r="10.2"/><circle cx="338.2" cy="270.2" r="10.8"/><circle cx="338.8" cy="271.4" r="9.6"/><circle cx="337.5" cy="273.6" r="10.3"/><circle cx="337.9" cy="275.2" r="10.2"/><circle cx="337.1" cy="276.4" r="10.8"/><circle cx="336.1" cy="277.8" r="10.8"/><circle cx="336.3" cy="278.0" r="11.3"/><circle cx="334.1" cy="280.5" r="10.7"/><circle cx="334.7" cy="282.2" r="10.8"/><circle cx="334.2" cy="283.2" r="11.6"/><circle cx="334.2" cy="283.8" r="10.7"/><circle cx="333.6" cy="285.8" r="10.5"/><circle cx="333.3" cy="286.7" r="11.5"/></g>
<g fill="#38a91e" fill-opacity="0.75"><circle cx="272.8" cy="203.1" r="10.3"/><circle cx="272.9" cy="205.0" r="11.5"/><circle cx="273.5" cy="205.9" r="10.1"/><circle cx="273.4" cy="206.9" r="11.1"/><circle cx="274.1" cy="208.3" r="12.0"/><circle cx="273.9" cy="211.1" r="11.9"/><circle cx="275.3" cy="211.5" r="11.1"/><circle cx="275.5" cy="212.6" r="10.3"/><circle cx="275.1" cy="215.0" r="12.5"/><circle cx="275.7" cy="216.5" r="12.7"/><circle cx="275.5" cy="217.9" r="11.9"/><circle cx="275.5" cy="219.1" r="11.7"/><circle cx="275.6" cy="221.6" r="11.8"/><circle cx="276.2" cy="221.5" r="11.1"/><circle cx="276.2" cy="223.8" r="11.5"/><circle cx="277.2" cy="225.9" r="11.3"/><circle cx="276.7" cy="226.8" r="12.5"/><circle cx="276.7" cy="228.1" r="12.0"/><circle cx="276.6" cy="229.1" r="12.4"/><circle cx="278.0" cy="230.9" r="10.3"/><circle cx="278.4" cy="232.7" r="11.9"/><circle cx="278.8" cy="234.5" r="11.0"/><circle cx="277.5" cy="234.8" r="11.2"/><circle cx="278.3" cy="236.1" r="10.4"/><circle cx="278.8" cy="238.3" r="10.8"/><circle cx="279.7" cy="239.8" r="10.0"/><circle cx="279.0" cy="241.0" r="11.5"/></g>
<g fill="#38a91e" fill-opacity="0.75"><circle cx="300.8" cy="199.5" r="9.2"/><circle cx="302.3" cy="199.1" r="9.0"/><circle cx="303.6" cy="201.2" r="9.5"/><circle cx="303.5" cy="202.0" r="9.1"/><circle cx="304.6" cy="203.3" r="8.9"/><circle cx="306.0" cy="204.0" r="9.0"/></g>
<g fill="#38a91e" fill-opacity="0.75"><circle cx="288.9" cy="220.1" r="10.4"/><circle cx="287.3" cy="220.8" r="11.2"/><circle cx="287.3" cy="222.2" r="9.9"/><circle cx="288.0" cy="225.0" r="10.9"/><circle cx="288.6" cy="225.1" r="9.6"/><circle cx="288.5" cy="227.0" r="11.2"/><circle cx="287.7" cy="228.2" r="10.2"/><circle cx="287.3" cy="231.0" r="11.0"/><circle cx="287.7" cy="231.6" r="10.6"/><circle cx="287.2" cy="233.9" r="11.0"/><circle cx="288.8" cy="234.6" r="11.2"/><circle cx="287.5" cy="235.3" r="11.9"/><circle cx="288.6" cy="237.3" r="11.9"/><circle cx="288.6" cy="238.7" r="11.2"/><circle cx="288.8" cy="240.5" r="12.0"/><circle cx="288.0" cy="242.0" r="11.5"/></g>
<g fill="#38a91e" fill-opacity="0.75"><circle cx="305.5" cy="224.8" r="10.0"/><circle cx="305.7" cy="226.2" r="10.4"/><circle cx="306.5" cy="228.5" r="9.1"/><circle cx="306.2" cy="229.2" r="9.0"/><circle cx="307.8" cy="230.6" r="9.7"/><circle cx="306.6" cy="232.6" r="9.4"/><circle cx="307.3" cy="233.2" r="8.8"/><circle cx="308.3" cy="235.2" r="9.1"/><circle cx="307.4" cy="236.6" r="9.1"/><circle cx="307.4" cy="238.8" r="9.3"/><circle cx="307.9" cy="240.4" r="8.8"/><circle cx="308.3" cy="242.1" r="8.9"/><circle cx="308.9" cy="243.6" r="10.2"/><circle cx="309.2" cy="244.0" r="10.0"/><circle cx="310.4" cy="246.4" r="9.0"/><circle cx="312.2" cy="246.9" r="9.1"/><circle cx="312.1" cy="247.5" r="10.0"/><circle cx="312.6" cy="250.2" r="9.8"/><circle cx="313.6" cy="250.3" r="9.8"/><circle cx="314.1" cy="252.8" r="8.8"/><circle cx="315.4" cy="253.5" r="9.1"/><circle cx="316.7" cy="254.5" r="9.9"/><circle cx="317.1" cy="255.7" r="9.4"/><circle cx="317.4" cy="256.5" r="10.3"/><circle cx="318.9" cy="258.5" r="8.8"/><circle cx="320.5" cy="259.1" r="9.6"/><circle cx="321.1" cy="259.7" r="9.2"/><circle cx="322.1" cy="261.0" r="10.0"/><circle cx="323.4" cy="262.6" r="10.4"/><circle cx="325.4" cy="264.6" r="10.3"/><circle cx="326.0" cy="265.0" r="10.0"/></g>
<g fill="#38a91e" fill-opacity="0.75"><circle cx="324.3" cy="259.6" r="9.5"/><circle cx="325.7" cy="261.8" r="10.2"/><circle cx="325.7" cy="263.3" r="10.8"/><circle cx="325.8" cy="265.1" r="10.0"/><circle cx="326.9" cy="265.4" r="9.4"/><circle cx="327.8" cy="267.9" r="10.6"/><circle cx="326.7" cy="268.2" r="9.4"/><circle cx="327.4" cy="270.1" r="9.8"/><circle cx="327.5" cy="271.7" r="10.2"/><circle cx="328.2" cy="274.1" r="10.0"/><circle cx="329.6" cy="274.6" r="9.6"/><circle cx="329.9" cy="276.2" r="8.7"/><circle cx="330.0" cy="278.0" r="10.0"/></g>
<g fill="#38a91e" fill-opacity="0.75"><circle cx="366.4" cy="259.7" r="8.3"/><circle cx="365.2" cy="261.3" r="8.8"/><circle cx="365.4" cy="261.6" r="7.9"/><circle cx="367.0" cy="263.0" r="9.4"/><circle cx="367.2" cy="264.2" r="9.0"/><circle cx="366.7" cy="266.8" r="9.2"/><circle cx="366.8" cy="267.1" r="9.4"/><circle cx="367.3" cy="270.0" r="9.0"/><circle cx="368.0" cy="271.3" r="8.9"/><circle cx="367.8" cy="271.3" r="9.0"/><circle cx="367.9" cy="273.6" r="9.4"/><circle cx="367.6" cy="275.5" r="7.8"/><circle cx="369.0" cy="277.1" r="8.2"/><circle cx="369.1" cy="278.8" r="8.9"/><circle cx="369.4" cy="279.0" r="7.8"/><circle cx="369.4" cy="280.8" r="8.1"/><circle cx="369.7" cy="281.8" r="9.0"/><circle cx="370.6" cy="283.5" r="8.2"/><circle cx="370.7" cy="285.4" r="9.4"/><circle cx="370.8" cy="286.6" r="9.3"/><circle cx="370.7" cy="288.6" r="8.3"/><circle cx="372.3" cy="290.1" r="9.1"/><circle cx="371.3" cy="291.8" r="8.7"/><circle cx="371.9" cy="293.5" r="9.0"/><circle cx="371.4" cy="294.2" r="8.1"/><circle cx="371.8" cy="295.3" r="7.9"/><circle cx="371.9" cy="298.0" r="8.1"/><circle cx="371.9" cy="298.8" r="8.1"/><circle cx="372.5" cy="300.0" r="7.3"/><circle cx="372.0" cy="303.0" r="8.4"/><circle cx="372.3" cy="304.1" r="8.6"/><circle cx="373.3" cy="304.5" r="7.7"/><circle cx="373.2" cy="306.1" r="7.7"/><circle cx="372.6" cy="309.0" r="7.9"/><circle cx="373.9" cy="310.6" r="7.9"/><circle cx="373.4" cy="311.0" r="7.1"/><circle cx="373.1" cy="313.5" r="8.2"/><circle cx="373.8" cy="313.9" r="8.0"/><circle cx="374.9" cy="316.8" r="7.4"/><circle cx="374.9" cy="318.1" r="8.4"/><circle cx="374.2" cy="318.4" r="8.7"/><circle cx="374.3" cy="320.3" r="8.4"/><circle cx="374.5" cy="322.6" r="7.9"/><circle cx="374.0" cy="323.6" r="8.7"/><circle cx="375.6" cy="325.4" r="9.4"/><circle cx="375.3" cy="326.3" r="8.3"/><circle cx="373.4" cy="327.3" r="8.1"/><circle cx="372.7" cy="329.3" r="7.1"/><circle cx="372.9" cy="331.2" r="6.7"/><circle cx="371.7" cy="331.6" r="6.6"/><circle cx="372.0" cy="333.0" r="7.0"/></g>
<g fill="#38a91e" fill-opacity="0.70"><circle cx="370.8" cy="343.0" r="6.0"/></g>
<g fill="#38a91e" fill-opacity="0.75"><circle cx="376.4" cy="334.1" r="8.2"/><circle cx="377.2" cy="336.8" r="7.7"/><circle cx="376.7" cy="338.0" r="7.9"/><circle cx="377.6" cy="338.7" r="7.9"/><circle cx="378.6" cy="340.9" r="8.7"/><circle cx="378.2" cy="341.3" r="8.1"/><circle cx="379.5" cy="342.7" r="7.7"/><circle cx="379.2" cy="344.0" r="8.3"/><circle cx="381.4" cy="346.4" r="9.1"/><circle cx="382.0" cy="347.8" r="8.8"/><circle cx="382.3" cy="347.5" r="9.0"/><circle cx="382.5" cy="349.4" r="8.8"/><circle cx="383.8" cy="351.1" r="9.1"/><circle cx="383.3" cy="352.3" r="9.6"/><circle cx="383.4" cy="353.4" r="9.3"/><circle cx="384.8" cy="354.6" r="9.3"/><circle cx="385.3" cy="356.9" r="8.9"/><circle cx="386.2" cy="358.3" r="9.0"/><circle cx="386.1" cy="359.0" r="10.0"/><circle cx="387.5" cy="360.3" r="10.0"/><circle cx="387.6" cy="361.7" r="9.4"/><circle cx="388.3" cy="363.8" r="9.6"/><circle cx="388.9" cy="365.4" r="8.8"/><circle cx="390.0" cy="366.9" r="8.8"/><circle cx="391.3" cy="365.9" r="9.5"/><circle cx="393.5" cy="366.8" r="10.0"/><circle cx="394.7" cy="366.0" r="10.6"/><circle cx="396.1" cy="366.0" r="10.3"/><circle cx="396.9" cy="366.1" r="10.5"/><circle cx="398.7" cy="367.2" r="8.9"/><circle cx="400.5" cy="365.9" r="9.1"/><circle cx="400.3" cy="364.4" r="9.7"/><circle cx="400.5" cy="363.4" r="9.8"/><circle cx="401.4" cy="363.0" r="9.5"/><circle cx="402.7" cy="361.0" r="9.9"/><circle cx="403.2" cy="358.8" r="9.5"/><circle cx="402.7" cy="358.4" r="9.2"/><circle cx="404.1" cy="355.8" r="8.5"/><circle cx="404.4" cy="355.8" r="9.0"/><circle cx="403.6" cy="353.8" r="7.8"/><circle cx="404.9" cy="352.7" r="7.7"/><circle cx="405.9" cy="351.0" r="7.8"/><circle cx="405.0" cy="349.2" r="8.7"/><circle cx="406.1" cy="347.2" r="7.2"/><circle cx="405.6" cy="347.0" r="7.3"/><circle cx="406.8" cy="344.6" r="8.0"/><circle cx="407.6" cy="345.2" r="8.3"/><circle cx="409.0" cy="347.0" r="8.2"/><circle cx="410.8" cy="346.6" r="7.4"/><circle cx="410.5" cy="348.3" r="8.3"/><circle cx="412.7" cy="348.3" r="7.2"/><circle cx="413.9" cy="350.3" r="7.5"/><circle cx="414.1" cy="350.6" r="8.2"/><circle cx="414.8" cy="353.0" r="7.9"/><circle cx="415.1" cy="353.2" r="7.2"/><circle cx="417.4" cy="354.8" r="6.9"/><circle cx="416.9" cy="355.6" r="7.6"/><circle cx="418.5" cy="356.8" r="7.4"/><circle cx="418.3" cy="358.3" r="7.4"/><circle cx="419.2" cy="359.3" r="8.5"/><circle cx="420.0" cy="359.9" r="8.0"/><circle cx="421.3" cy="361.3" r="7.7"/><circle cx="422.3" cy="360.8" r="7.5"/><circle cx="424.5" cy="360.6" r="6.6"/><circle cx="424.8" cy="359.2" r="7.7"/><circle cx="426.2" cy="357.9" r="7.1"/><circle cx="426.5" cy="356.3" r="7.1"/><circle cx="427.4" cy="356.0" r="6.8"/><circle cx="426.5" cy="354.1" r="6.7"/><circle cx="426.9" cy="352.4" r="6.0"/><circle cx="427.1" cy="350.5" r="5.5"/><circle cx="426.8" cy="348.8" r="6.4"/><circle cx="427.1" cy="347.4" r="5.4"/><circle cx="426.7" cy="345.8" r="5.1"/><circle cx="426.4" cy="345.2" r="5.3"/><circle cx="427.3" cy="343.2" r="4.9"/><circle cx="426.8" cy="340.7" r="4.8"/><circle cx="427.5" cy="340.0" r="5.0"/></g>
<g fill="#38a91e" fill-opacity="0.70"><circle cx="427.5" cy="333.3" r="5.0"/></g>
<g fill="#38a91e" fill-opacity="0.75"><circle cx="428.9" cy="322.1" r="5.8"/><circle cx="429.9" cy="320.0" r="6.3"/><circle cx="429.1" cy="318.1" r="5.4"/><circle cx="429.0" cy="318.3" r="5.6"/><circle cx="429.2" cy="315.9" r="6.2"/><circle cx="427.8" cy="314.5" r="6.2"/><circle cx="428.0" cy="312.7" r="5.2"/><circle cx="427.7" cy="311.3" r="6.0"/><circle cx="427.5" cy="310.3" r="5.1"/><circle cx="428.0" cy="309.9" r="5.3"/><circle cx="427.5" cy="308.0" r="5.0"/></g>
<g fill="#8a8997" fill-opacity="0.95"><circle cx="433.7" cy="303.7" r="5.3"/><circle cx="434.6" cy="303.9" r="5.1"/><circle cx="435.4" cy="305.8" r="4.4"/><circle cx="434.4" cy="307.5" r="5.2"/><circle cx="435.5" cy="309.6" r="4.5"/><circle cx="435.2" cy="310.7" r="4.9"/><circle cx="435.6" cy="311.9" r="4.6"/><circle cx="435.2" cy="312.8" r="4.3"/><circle cx="436.3" cy="314.2" r="4.9"/><circle cx="436.4" cy="315.5" r="4.9"/><circle cx="435.4" cy="318.2" r="5.1"/><circle cx="437.3" cy="318.1" r="5.2"/><circle cx="436.9" cy="320.0" r="4.7"/><circle cx="436.0" cy="321.2" r="5.5"/><circle cx="436.0" cy="323.9" r="5.2"/><circle cx="438.0" cy="323.9" r="5.3"/><circle cx="439.5" cy="324.3" r="5.1"/><circle cx="440.9" cy="324.1" r="5.5"/><circle cx="442.2" cy="325.5" r="5.1"/><circle cx="443.2" cy="324.6" r="5.3"/><circle cx="443.4" cy="322.5" r="6.0"/><circle cx="444.1" cy="320.4" r="5.6"/><circle cx="446.1" cy="320.5" r="5.6"/><circle cx="446.6" cy="318.1" r="6.1"/><circle cx="444.8" cy="316.3" r="5.3"/><circle cx="444.7" cy="315.7" r="5.8"/><circle cx="444.8" cy="315.1" r="5.6"/><circle cx="444.6" cy="312.3" r="6.0"/><circle cx="445.9" cy="310.8" r="5.2"/><circle cx="445.0" cy="310.0" r="6.0"/></g>
<g fill="#8a8997" fill-opacity="0.95"><circle cx="446.3" cy="334.5" r="5.3"/><circle cx="445.7" cy="336.7" r="4.6"/><circle cx="446.1" cy="337.9" r="4.6"/><circle cx="446.2" cy="338.7" r="5.0"/><circle cx="444.6" cy="341.1" r="4.7"/><circle cx="446.0" cy="341.5" r="4.9"/><circle cx="445.0" cy="344.5" r="5.2"/><circle cx="445.3" cy="344.7" r="4.6"/><circle cx="444.6" cy="346.6" r="4.5"/><circle cx="444.6" cy="348.7" r="4.9"/><circle cx="445.0" cy="350.6" r="4.5"/><circle cx="445.6" cy="350.6" r="5.2"/><circle cx="446.3" cy="352.3" r="5.1"/><circle cx="446.4" cy="353.8" r="4.6"/><circle cx="446.0" cy="356.4" r="4.5"/><circle cx="446.5" cy="357.4" r="4.8"/><circle cx="446.5" cy="359.4" r="4.5"/><circle cx="447.2" cy="359.9" r="5.1"/><circle cx="446.7" cy="361.7" r="5.0"/></g>
<g fill="#38a91e" fill-opacity="0.75"><circle cx="454.9" cy="337.7" r="7.7"/><circle cx="454.6" cy="339.4" r="6.3"/><circle cx="452.5" cy="342.0" r="6.1"/><circle cx="453.5" cy="342.0" r="6.9"/><circle cx="451.5" cy="343.4" r="6.6"/><circle cx="451.0" cy="345.2" r="6.7"/><circle cx="451.7" cy="347.6" r="6.6"/><circle cx="450.0" cy="347.8" r="6.1"/><circle cx="451.3" cy="348.9" r="5.7"/><circle cx="450.6" cy="351.0" r="5.1"/><circle cx="450.4" cy="353.4" r="5.3"/><circle cx="452.1" cy="353.2" r="5.4"/><circle cx="450.9" cy="355.2" r="5.0"/><circle cx="451.7" cy="356.7" r="5.5"/></g>
<g fill="#38a91e" fill-opacity="0.75"><circle cx="456.3" cy="341.4" r="7.1"/><circle cx="456.8" cy="342.6" r="6.6"/><circle cx="457.6" cy="345.3" r="6.7"/><circle cx="457.9" cy="346.6" r="7.6"/><circle cx="459.6" cy="346.6" r="6.6"/><circle cx="459.6" cy="347.5" r="6.5"/><circle cx="460.7" cy="349.3" r="7.4"/><circle cx="461.2" cy="349.8" r="7.6"/><circle cx="462.4" cy="352.0" r="7.5"/><circle cx="463.2" cy="354.0" r="8.1"/><circle cx="464.0" cy="354.1" r="7.3"/><circle cx="464.1" cy="356.4" r="7.4"/><circle cx="464.8" cy="356.5" r="7.1"/><circle cx="467.2" cy="355.5" r="7.9"/><circle cx="468.4" cy="355.6" r="7.9"/><circle cx="468.8" cy="355.2" r="7.2"/><circle cx="469.7" cy="356.0" r="8.1"/><circle cx="472.4" cy="354.2" r="8.0"/><circle cx="471.8" cy="353.8" r="7.7"/><circle cx="472.1" cy="352.9" r="6.7"/><circle cx="473.2" cy="351.2" r="7.4"/><circle cx="473.3" cy="350.0" r="6.9"/><circle cx="473.8" cy="348.0" r="7.0"/><circle cx="474.3" cy="345.9" r="7.1"/><circle cx="474.5" cy="345.0" r="6.7"/><circle cx="474.9" cy="343.3" r="6.4"/><circle cx="475.2" cy="341.3" r="7.3"/><circle cx="475.2" cy="340.6" r="6.6"/><circle cx="475.5" cy="338.1" r="5.9"/><circle cx="476.6" cy="337.2" r="6.3"/><circle cx="476.2" cy="336.1" r="5.7"/><circle cx="475.8" cy="334.6" r="5.9"/><circle cx="477.0" cy="333.1" r="6.2"/><circle cx="478.5" cy="332.6" r="5.8"/><circle cx="479.5" cy="335.0" r="5.6"/><circle cx="479.4" cy="335.0" r="5.7"/><circle cx="480.8" cy="336.9" r="6.4"/><circle cx="482.1" cy="336.6" r="6.4"/><circle cx="484.2" cy="338.7" r="6.6"/><circle cx="484.1" cy="340.0" r="7.1"/><circle cx="484.3" cy="340.9" r="6.5"/><circle cx="485.8" cy="341.2" r="6.5"/><circle cx="486.3" cy="342.6" r="6.0"/><circle cx="486.9" cy="344.0" r="6.1"/><circle cx="487.7" cy="345.4" r="6.4"/><circle cx="489.6" cy="344.5" r="7.2"/><circle cx="490.9" cy="345.2" r="7.2"/><circle cx="493.3" cy="345.0" r="7.0"/></g>
<g fill="#8a8997" fill-opacity="0.95"><circle cx="499.2" cy="343.3" r="5.0"/><circle cx="498.3" cy="350.8" r="5.0"/></g>
<g fill="#8a8997" fill-opacity="0.95"><circle cx="502.8" cy="301.6" r="4.8"/><circle cx="503.2" cy="302.9" r="4.1"/><circle cx="502.7" cy="304.2" r="4.8"/><circle cx="502.1" cy="305.7" r="4.8"/><circle cx="502.8" cy="307.0" r="4.6"/><circle cx="502.1" cy="309.4" r="4.4"/><circle cx="502.5" cy="310.4" r="4.7"/><circle cx="501.9" cy="311.2" r="4.4"/><circle cx="501.9" cy="312.9" r="4.8"/><circle cx="501.3" cy="315.4" r="5.1"/><circle cx="500.3" cy="316.3" r="4.8"/><circle cx="501.0" cy="318.3" r="4.7"/><circle cx="500.9" cy="320.0" r="4.7"/><circle cx="500.8" cy="320.8" r="5.1"/><circle cx="501.1" cy="322.7" r="4.7"/><circle cx="500.0" cy="324.0" r="4.9"/><circle cx="501.3" cy="325.6" r="4.4"/><circle cx="500.3" cy="325.8" r="5.1"/><circle cx="500.1" cy="327.2" r="5.1"/><circle cx="500.9" cy="328.6" r="5.0"/><circle cx="500.8" cy="330.8" r="5.0"/></g>
<g fill="#8a8997" fill-opacity="0.95"><circle cx="511.2" cy="302.5" r="4.1"/><circle cx="511.3" cy="303.9" r="4.6"/><circle cx="512.0" cy="306.1" r="5.0"/><circle cx="510.6" cy="306.8" r="4.7"/><circle cx="510.5" cy="309.5" r="4.5"/><circle cx="511.1" cy="309.8" r="4.5"/><circle cx="512.3" cy="311.8" r="4.8"/><circle cx="511.8" cy="312.3" r="4.8"/><circle cx="512.8" cy="315.1" r="5.6"/><circle cx="511.9" cy="315.4" r="4.9"/><circle cx="512.7" cy="317.2" r="5.6"/><circle cx="512.8" cy="319.0" r="5.7"/><circle cx="513.6" cy="319.7" r="6.6"/><circle cx="513.4" cy="320.9" r="6.0"/><circle cx="514.3" cy="322.7" r="6.4"/><circle cx="514.9" cy="323.7" r="6.8"/><circle cx="515.8" cy="325.6" r="6.9"/><circle cx="517.3" cy="326.4" r="7.1"/><circle cx="518.0" cy="328.3" r="6.0"/><circle cx="518.9" cy="329.1" r="6.0"/><circle cx="520.7" cy="329.2" r="6.9"/><circle cx="520.4" cy="329.6" r="6.7"/><circle cx="522.5" cy="327.6" r="6.8"/><circle cx="523.2" cy="326.1" r="6.1"/><circle cx="524.4" cy="324.6" r="7.0"/><circle cx="524.3" cy="323.4" r="5.8"/><circle cx="526.3" cy="323.7" r="6.2"/><circle cx="527.0" cy="321.3" r="6.8"/><circle cx="526.5" cy="319.7" r="5.4"/><circle cx="525.9" cy="318.1" r="6.2"/><circle cx="524.6" cy="317.0" r="5.6"/><circle cx="524.1" cy="316.2" r="4.9"/><circle cx="524.6" cy="314.4" r="5.4"/><circle cx="522.7" cy="313.8" r="5.3"/><circle cx="523.9" cy="311.1" r="4.8"/><circle cx="525.2" cy="310.1" r="5.1"/><circle cx="525.1" cy="309.2" r="5.4"/><circle cx="526.5" cy="308.2" r="4.9"/><circle cx="528.1" cy="305.9" r="5.9"/><circle cx="529.2" cy="306.0" r="5.6"/><circle cx="528.8" cy="303.6" r="5.9"/><circle cx="530.0" cy="303.3" r="5.3"/><circle cx="530.8" cy="304.4" r="6.0"/><circle cx="531.7" cy="304.3" r="5.5"/><circle cx="532.1" cy="307.0" r="6.4"/><circle cx="532.8" cy="308.3" r="5.5"/><circle cx="534.3" cy="309.6" r="6.0"/><circle cx="535.8" cy="310.3" r="5.7"/><circle cx="535.7" cy="311.1" r="6.1"/><circle cx="537.4" cy="311.8" r="7.1"/><circle cx="537.5" cy="312.8" r="7.1"/><circle cx="538.1" cy="314.8" r="7.7"/><circle cx="540.0" cy="315.9" r="6.7"/><circle cx="540.8" cy="316.4" r="8.0"/><circle cx="541.7" cy="318.3" r="8.3"/></g>
<g fill="#8a8997" fill-opacity="0.95"><circle cx="506.0" cy="318.0" r="5.0"/><circle cx="533.0" cy="318.0" r="7.0"/></g>
<g fill="#8a8997" fill-opacity="0.95"><circle cx="546.0" cy="253.4" r="7.0"/><circle cx="546.4" cy="255.1" r="6.6"/><circle cx="545.9" cy="257.0" r="6.8"/><circle cx="547.0" cy="258.4" r="7.0"/><circle cx="545.6" cy="258.4" r="7.5"/><circle cx="545.4" cy="260.6" r="7.0"/><circle cx="545.3" cy="262.0" r="6.4"/><circle cx="546.0" cy="263.5" r="6.6"/><circle cx="545.3" cy="264.8" r="6.3"/><circle cx="546.0" cy="265.9" r="7.2"/><circle cx="547.5" cy="268.4" r="6.0"/><circle cx="549.1" cy="269.0" r="7.1"/><circle cx="549.3" cy="270.7" r="6.3"/><circle cx="550.0" cy="271.7" r="7.0"/></g>
<g fill="#38a91e" fill-opacity="0.75"><circle cx="556.3" cy="283.6" r="6.8"/><circle cx="555.5" cy="285.5" r="6.9"/><circle cx="556.6" cy="287.9" r="6.0"/><circle cx="557.6" cy="288.3" r="6.4"/><circle cx="558.6" cy="290.6" r="5.4"/><circle cx="558.2" cy="292.0" r="6.2"/><circle cx="559.2" cy="293.3" r="5.5"/></g>
<g fill="#38a91e" fill-opacity="0.75"><circle cx="559.2" cy="306.9" r="7.5"/><circle cx="561.6" cy="307.5" r="7.6"/><circle cx="562.0" cy="309.5" r="6.4"/><circle cx="563.9" cy="309.7" r="6.9"/><circle cx="563.4" cy="310.4" r="7.3"/><circle cx="565.5" cy="311.3" r="6.7"/><circle cx="565.6" cy="312.4" r="6.4"/><circle cx="567.0" cy="314.8" r="7.5"/><circle cx="568.8" cy="315.0" r="6.7"/><circle cx="569.9" cy="314.8" r="7.1"/><circle cx="570.7" cy="312.5" r="6.9"/><circle cx="572.1" cy="312.6" r="6.1"/><circle cx="573.0" cy="310.9" r="6.2"/><circle cx="574.5" cy="310.5" r="7.1"/><circle cx="574.1" cy="309.8" r="7.3"/><circle cx="575.8" cy="308.3" r="7.0"/></g>
<g fill="#8a8997" fill-opacity="0.95"><circle cx="584.0" cy="313.7" r="7.2"/><circle cx="584.2" cy="312.0" r="6.5"/><circle cx="584.6" cy="310.9" r="7.0"/><circle cx="584.1" cy="309.7" r="6.4"/><circle cx="585.6" cy="306.7" r="6.9"/><circle cx="585.7" cy="305.5" r="6.6"/><circle cx="585.1" cy="303.9" r="6.0"/><circle cx="585.5" cy="302.9" r="6.5"/><circle cx="586.7" cy="301.9" r="5.7"/><circle cx="587.2" cy="300.5" r="6.0"/><circle cx="587.8" cy="299.1" r="5.6"/><circle cx="586.6" cy="297.3" r="6.0"/><circle cx="587.3" cy="295.8" r="6.0"/><circle cx="588.5" cy="293.3" r="5.5"/><circle cx="587.4" cy="292.0" r="5.8"/><circle cx="588.4" cy="291.4" r="5.4"/><circle cx="588.6" cy="289.2" r="5.2"/><circle cx="589.8" cy="288.5" r="5.1"/><circle cx="588.7" cy="286.5" r="5.4"/><circle cx="589.6" cy="285.7" r="5.5"/><circle cx="589.2" cy="284.3" r="4.6"/><circle cx="590.7" cy="282.0" r="4.8"/><circle cx="591.2" cy="280.9" r="4.7"/><circle cx="591.3" cy="279.9" r="5.3"/><circle cx="590.6" cy="278.3" r="5.3"/><circle cx="590.9" cy="277.8" r="4.5"/><circle cx="591.5" cy="274.8" r="4.8"/><circle cx="590.1" cy="273.4" r="5.2"/><circle cx="591.0" cy="273.1" r="4.6"/><circle cx="590.9" cy="270.4" r="4.9"/><circle cx="591.9" cy="269.8" r="4.7"/><circle cx="591.3" cy="268.3" r="5.0"/></g>
<g fill="#8a8997" fill-opacity="0.95"><circle cx="596.7" cy="293.3" r="6.0"/></g>
<g fill="#38a91e" fill-opacity="0.75"><circle cx="600.8" cy="285.7" r="7.0"/><circle cx="599.7" cy="283.9" r="6.5"/><circle cx="601.8" cy="282.1" r="6.7"/><circle cx="601.7" cy="280.8" r="6.3"/><circle cx="602.2" cy="280.5" r="6.2"/><circle cx="602.1" cy="279.3" r="5.5"/><circle cx="603.4" cy="277.4" r="6.0"/><circle cx="603.2" cy="276.3" r="6.2"/><circle cx="604.8" cy="277.2" r="5.3"/><circle cx="605.1" cy="277.0" r="6.6"/><circle cx="607.2" cy="278.0" r="6.2"/><circle cx="607.6" cy="278.7" r="6.1"/><circle cx="609.0" cy="280.7" r="6.1"/><circle cx="610.1" cy="281.0" r="6.5"/><circle cx="610.5" cy="283.2" r="6.8"/><circle cx="612.2" cy="283.6" r="6.6"/><circle cx="613.3" cy="285.0" r="7.0"/><circle cx="612.8" cy="285.3" r="6.8"/><circle cx="614.5" cy="287.7" r="6.5"/><circle cx="614.0" cy="288.5" r="7.2"/><circle cx="614.8" cy="290.2" r="6.3"/><circle cx="615.8" cy="290.3" r="6.4"/><circle cx="616.6" cy="293.2" r="7.4"/><circle cx="617.0" cy="293.4" r="7.3"/><circle cx="617.8" cy="294.7" r="6.6"/><circle cx="618.2" cy="296.0" r="6.6"/><circle cx="619.3" cy="298.8" r="6.5"/><circle cx="619.6" cy="300.1" r="6.8"/><circle cx="621.4" cy="301.1" r="7.4"/><circle cx="621.1" cy="301.7" r="7.4"/><circle cx="622.0" cy="303.9" r="7.3"/><circle cx="623.1" cy="304.8" r="6.9"/><circle cx="624.1" cy="306.8" r="6.9"/><circle cx="624.7" cy="306.8" r="7.6"/><circle cx="624.7" cy="308.4" r="7.3"/><circle cx="626.4" cy="309.1" r="6.8"/><circle cx="627.2" cy="306.3" r="7.3"/><circle cx="629.0" cy="306.2" r="7.1"/><circle cx="630.1" cy="304.0" r="6.9"/><circle cx="630.7" cy="304.4" r="7.4"/><circle cx="631.8" cy="302.9" r="7.0"/><circle cx="633.1" cy="301.6" r="7.0"/><circle cx="633.3" cy="300.0" r="7.5"/></g>
<g fill="#8a8997" fill-opacity="0.95"><circle cx="641.5" cy="267.3" r="4.4"/><circle cx="641.1" cy="268.8" r="4.6"/><circle cx="641.7" cy="269.8" r="5.0"/><circle cx="641.0" cy="270.6" r="4.2"/><circle cx="641.5" cy="272.2" r="5.0"/><circle cx="642.0" cy="273.8" r="4.7"/><circle cx="641.8" cy="274.6" r="5.1"/><circle cx="641.8" cy="277.0" r="4.7"/><circle cx="641.2" cy="278.2" r="5.3"/><circle cx="641.2" cy="279.9" r="5.8"/><circle cx="640.6" cy="280.8" r="6.2"/><circle cx="639.0" cy="282.3" r="6.3"/><circle cx="639.4" cy="282.9" r="5.7"/><circle cx="640.6" cy="284.7" r="6.2"/><circle cx="641.2" cy="284.5" r="6.2"/><circle cx="643.3" cy="286.7" r="7.4"/><circle cx="643.9" cy="287.0" r="6.6"/><circle cx="646.1" cy="287.2" r="6.7"/><circle cx="646.9" cy="287.6" r="7.3"/><circle cx="647.6" cy="288.0" r="7.3"/><circle cx="650.6" cy="287.1" r="7.2"/><circle cx="650.9" cy="287.2" r="6.4"/><circle cx="653.0" cy="287.2" r="5.8"/><circle cx="653.0" cy="289.6" r="5.4"/><circle cx="654.4" cy="291.1" r="5.8"/><circle cx="653.2" cy="292.6" r="5.2"/><circle cx="654.3" cy="293.5" r="5.2"/><circle cx="654.7" cy="295.6" r="5.9"/><circle cx="654.6" cy="296.8" r="5.9"/><circle cx="654.5" cy="299.0" r="6.4"/><circle cx="657.2" cy="299.4" r="4.9"/><circle cx="659.2" cy="298.1" r="4.5"/><circle cx="659.3" cy="299.1" r="4.0"/><circle cx="659.5" cy="300.4" r="3.7"/><circle cx="657.8" cy="301.6" r="3.7"/><circle cx="657.0" cy="303.5" r="3.9"/><circle cx="656.6" cy="303.9" r="4.1"/><circle cx="655.3" cy="305.3" r="4.0"/><circle cx="655.4" cy="307.9" r="4.2"/><circle cx="655.0" cy="309.1" r="4.2"/><circle cx="654.7" cy="308.9" r="3.9"/><circle cx="653.5" cy="311.8" r="4.5"/><circle cx="654.7" cy="312.1" r="4.3"/><circle cx="653.9" cy="314.1" r="5.0"/><circle cx="654.3" cy="314.5" r="4.4"/><circle cx="654.7" cy="316.7" r="5.0"/></g>
<g fill="#38a91e" fill-opacity="0.75"><circle cx="663.0" cy="308.2" r="7.7"/><circle cx="664.7" cy="306.3" r="6.6"/><circle cx="665.7" cy="307.0" r="7.2"/><circle cx="668.7" cy="306.7" r="7.6"/><circle cx="669.3" cy="306.1" r="6.6"/><circle cx="670.1" cy="305.1" r="7.2"/><circle cx="671.5" cy="305.2" r="6.4"/><circle cx="673.9" cy="306.7" r="7.7"/><circle cx="675.2" cy="306.9" r="7.2"/><circle cx="675.3" cy="308.2" r="7.3"/><circle cx="676.0" cy="307.4" r="6.3"/><circle cx="677.5" cy="309.4" r="5.9"/><circle cx="678.6" cy="311.5" r="6.5"/><circle cx="677.9" cy="313.0" r="6.5"/><circle cx="678.6" cy="313.3" r="6.5"/><circle cx="680.7" cy="315.0" r="6.4"/><circle cx="680.6" cy="315.4" r="6.7"/><circle cx="682.0" cy="316.0" r="6.2"/><circle cx="682.7" cy="317.0" r="5.9"/><circle cx="684.6" cy="318.6" r="6.2"/><circle cx="685.5" cy="318.4" r="6.1"/><circle cx="685.9" cy="319.9" r="5.6"/><circle cx="687.5" cy="321.7" r="5.3"/><circle cx="688.0" cy="323.0" r="5.3"/><circle cx="687.6" cy="324.8" r="5.3"/><circle cx="687.9" cy="324.9" r="5.5"/><circle cx="688.7" cy="326.5" r="5.1"/><circle cx="689.4" cy="328.6" r="5.0"/><circle cx="687.6" cy="329.3" r="5.3"/><circle cx="688.0" cy="331.7" r="5.0"/></g>
<g fill="#38a91e" fill-opacity="0.75"><circle cx="692.5" cy="317.5" r="3.0"/></g>
<g fill="#38a91e" fill-opacity="0.75"><circle cx="698.0" cy="285.0" r="4.3"/><circle cx="696.3" cy="287.8" r="4.5"/><circle cx="696.4" cy="289.1" r="4.9"/><circle cx="696.2" cy="289.1" r="4.5"/><circle cx="693.8" cy="291.3" r="4.4"/><circle cx="694.9" cy="292.4" r="4.5"/><circle cx="693.9" cy="292.7" r="4.8"/><circle cx="693.9" cy="294.2" r="5.5"/><circle cx="696.7" cy="293.1" r="5.8"/><circle cx="697.4" cy="294.9" r="5.7"/><circle cx="698.9" cy="294.8" r="6.3"/><circle cx="699.2" cy="294.2" r="6.3"/><circle cx="700.9" cy="293.8" r="5.4"/><circle cx="702.9" cy="292.2" r="6.2"/><circle cx="704.3" cy="292.0" r="5.1"/><circle cx="705.3" cy="290.6" r="5.2"/><circle cx="705.5" cy="291.0" r="5.1"/><circle cx="707.2" cy="288.5" r="5.0"/><circle cx="707.8" cy="291.1" r="4.4"/><circle cx="706.6" cy="291.5" r="5.1"/><circle cx="705.8" cy="293.4" r="5.3"/><circle cx="706.6" cy="293.6" r="4.4"/><circle cx="705.1" cy="296.1" r="4.9"/><circle cx="707.3" cy="296.2" r="4.6"/><circle cx="709.0" cy="297.1" r="4.9"/><circle cx="710.7" cy="297.8" r="4.7"/><circle cx="712.4" cy="298.2" r="3.8"/><circle cx="713.6" cy="298.9" r="4.0"/><circle cx="714.0" cy="299.2" r="4.5"/><circle cx="713.2" cy="301.6" r="4.0"/><circle cx="712.9" cy="302.5" r="4.1"/><circle cx="712.6" cy="304.1" r="4.8"/><circle cx="714.0" cy="303.6" r="4.5"/><circle cx="714.7" cy="302.3" r="4.5"/><circle cx="714.0" cy="299.6" r="4.1"/><circle cx="713.9" cy="298.2" r="4.5"/><circle cx="715.9" cy="296.9" r="4.4"/><circle cx="716.1" cy="296.6" r="4.4"/><circle cx="716.0" cy="293.8" r="4.4"/><circle cx="716.0" cy="293.3" r="4.0"/><circle cx="716.8" cy="292.5" r="3.7"/><circle cx="718.1" cy="291.1" r="4.1"/><circle cx="720.2" cy="289.9" r="4.4"/><circle cx="720.8" cy="289.2" r="4.2"/></g>
<g fill="#38a91e" fill-opacity="0.75"><circle cx="692.5" cy="284.2" r="4.2"/><circle cx="690.8" cy="305.8" r="4.2"/><circle cx="690.8" cy="303.0" r="4.0"/><circle cx="700.0" cy="305.0" r="3.0"/><circle cx="700.0" cy="310.0" r="3.5"/><circle cx="700.0" cy="310.5" r="3.5"/><circle cx="700.0" cy="315.0" r="3.7"/><circle cx="722.2" cy="281.7" r="3.0"/><circle cx="738.3" cy="292.5" r="3.0"/></g>
<g fill="#38a91e" fill-opacity="0.75"><circle cx="724.5" cy="304.1" r="3.2"/><circle cx="725.1" cy="302.5" r="4.1"/><circle cx="726.2" cy="302.1" r="4.1"/><circle cx="729.4" cy="301.5" r="4.1"/><circle cx="730.3" cy="302.0" r="4.5"/><circle cx="731.7" cy="302.3" r="4.0"/><circle cx="731.6" cy="304.1" r="3.9"/><circle cx="733.3" cy="305.6" r="4.2"/><circle cx="735.2" cy="306.1" r="4.1"/><circle cx="735.4" cy="306.8" r="3.7"/><circle cx="734.2" cy="307.7" r="3.9"/><circle cx="735.0" cy="310.0" r="4.2"/></g>
<g fill="#38a91e" fill-opacity="0.75"><circle cx="738.0" cy="299.2" r="3.3"/><circle cx="737.5" cy="299.5" r="3.3"/><circle cx="732.0" cy="311.0" r="3.5"/></g>
<g fill="#8a8997" fill-opacity="0.95"><circle cx="739.2" cy="285.8" r="3.0"/><circle cx="739.7" cy="271.0" r="3.0"/><circle cx="739.7" cy="273.5" r="3.0"/><circle cx="740.3" cy="259.7" r="3.0"/><circle cx="740.3" cy="242.2" r="3.0"/><circle cx="741.7" cy="222.2" r="3.0"/><circle cx="741.3" cy="215.3" r="3.0"/><circle cx="743.0" cy="217.5" r="3.0"/><circle cx="743.0" cy="202.2" r="3.0"/><circle cx="745.0" cy="188.3" r="3.3"/><circle cx="744.2" cy="183.0" r="3.5"/><circle cx="745.8" cy="177.0" r="3.3"/><circle cx="746.3" cy="158.0" r="3.3"/><circle cx="747.0" cy="148.3" r="3.3"/></g>
<g fill="#8a8997" fill-opacity="0.95"><circle cx="747.5" cy="108.3" r="3.5"/></g>
<g fill="#8a8997" fill-opacity="0.95"><circle cx="749.4" cy="116.0" r="5.8"/><circle cx="750.7" cy="118.5" r="5.5"/><circle cx="750.3" cy="119.0" r="5.3"/><circle cx="749.3" cy="120.9" r="6.0"/><circle cx="749.5" cy="122.9" r="5.3"/><circle cx="750.3" cy="123.7" r="6.2"/><circle cx="748.6" cy="126.0" r="5.4"/><circle cx="749.9" cy="127.4" r="6.0"/><circle cx="748.8" cy="127.4" r="5.4"/><circle cx="751.4" cy="126.9" r="6.1"/><circle cx="752.3" cy="126.9" r="5.6"/><circle cx="752.9" cy="125.1" r="6.7"/><circle cx="754.8" cy="125.3" r="6.3"/><circle cx="754.9" cy="125.7" r="5.5"/><circle cx="756.5" cy="127.3" r="6.6"/><circle cx="756.0" cy="129.8" r="5.4"/><circle cx="757.2" cy="130.4" r="5.6"/><circle cx="757.1" cy="131.6" r="5.3"/><circle cx="758.0" cy="133.4" r="5.4"/><circle cx="758.4" cy="134.7" r="5.1"/><circle cx="757.8" cy="136.5" r="5.1"/><circle cx="758.6" cy="138.3" r="5.5"/><circle cx="757.5" cy="140.3" r="5.3"/><circle cx="757.8" cy="140.9" r="4.7"/><circle cx="757.8" cy="140.1" r="5.1"/><circle cx="757.9" cy="138.0" r="5.0"/><circle cx="758.3" cy="136.6" r="5.1"/><circle cx="758.4" cy="134.8" r="5.1"/><circle cx="759.2" cy="134.9" r="5.4"/><circle cx="758.7" cy="132.1" r="5.7"/><circle cx="759.7" cy="131.7" r="6.1"/><circle cx="760.5" cy="128.8" r="6.2"/><circle cx="760.0" cy="127.5" r="5.4"/><circle cx="761.5" cy="126.3" r="5.3"/><circle cx="761.2" cy="126.4" r="5.7"/><circle cx="762.9" cy="123.7" r="5.7"/><circle cx="763.0" cy="122.8" r="6.0"/><circle cx="763.1" cy="121.2" r="6.3"/><circle cx="763.3" cy="119.9" r="5.2"/><circle cx="763.6" cy="119.0" r="5.2"/><circle cx="763.2" cy="118.0" r="5.8"/><circle cx="762.8" cy="116.2" r="5.9"/><circle cx="763.6" cy="114.1" r="6.1"/><circle cx="764.1" cy="113.7" r="6.2"/><circle cx="763.3" cy="112.5" r="5.4"/><circle cx="763.2" cy="110.5" r="6.2"/><circle cx="763.1" cy="108.4" r="5.2"/><circle cx="763.9" cy="106.7" r="5.4"/><circle cx="764.7" cy="106.1" r="6.3"/><circle cx="764.3" cy="104.8" r="5.2"/><circle cx="765.4" cy="102.5" r="5.7"/><circle cx="764.8" cy="102.3" r="5.8"/><circle cx="765.9" cy="100.2" r="5.4"/><circle cx="765.7" cy="98.0" r="6.4"/><circle cx="765.1" cy="96.6" r="6.3"/><circle cx="764.9" cy="95.4" r="5.6"/><circle cx="765.7" cy="93.2" r="5.6"/><circle cx="764.8" cy="93.2" r="5.2"/><circle cx="765.7" cy="90.7" r="5.7"/><circle cx="765.7" cy="90.0" r="5.3"/><circle cx="765.2" cy="87.5" r="6.3"/><circle cx="765.2" cy="86.0" r="5.8"/><circle cx="766.2" cy="88.8" r="5.3"/><circle cx="765.9" cy="88.9" r="6.0"/><circle cx="766.6" cy="90.7" r="6.5"/><circle cx="767.2" cy="92.9" r="6.7"/><circle cx="766.8" cy="94.4" r="6.0"/><circle cx="766.7" cy="95.7" r="5.7"/><circle cx="767.1" cy="96.0" r="5.9"/><circle cx="769.3" cy="98.3" r="5.9"/><circle cx="769.1" cy="99.6" r="6.3"/><circle cx="769.8" cy="100.4" r="5.4"/><circle cx="769.5" cy="102.0" r="5.9"/><circle cx="770.7" cy="103.9" r="6.3"/><circle cx="769.7" cy="103.9" r="6.1"/><circle cx="770.5" cy="105.6" r="5.8"/><circle cx="770.0" cy="107.1" r="5.4"/><circle cx="770.6" cy="109.4" r="5.0"/><circle cx="771.1" cy="110.8" r="5.4"/><circle cx="771.1" cy="112.6" r="4.8"/><circle cx="770.8" cy="113.8" r="5.6"/><circle cx="771.3" cy="114.4" r="5.8"/><circle cx="771.6" cy="116.0" r="5.2"/><circle cx="772.0" cy="117.4" r="5.1"/><circle cx="772.1" cy="120.2" r="4.8"/><circle cx="771.7" cy="120.7" r="5.2"/><circle cx="771.9" cy="121.7" r="4.7"/><circle cx="771.0" cy="123.4" r="4.5"/><circle cx="770.9" cy="125.2" r="4.8"/><circle cx="770.9" cy="127.0" r="5.3"/><circle cx="771.7" cy="128.3" r="5.0"/></g>
<g fill="#38a91e" fill-opacity="0.75"><circle cx="783.7" cy="99.2" r="6.0"/><circle cx="786.7" cy="145.8" r="5.0"/><circle cx="798.3" cy="158.3" r="5.0"/><circle cx="781.0" cy="141.0" r="5.0"/></g>
<g fill="#38a91e" fill-opacity="0.75"><circle cx="777.6" cy="106.4" r="7.0"/><circle cx="777.5" cy="107.6" r="6.8"/><circle cx="776.8" cy="110.0" r="6.4"/><circle cx="777.5" cy="112.0" r="7.4"/><circle cx="778.5" cy="112.9" r="7.3"/><circle cx="778.3" cy="114.9" r="6.8"/><circle cx="778.5" cy="115.2" r="7.0"/><circle cx="778.7" cy="117.2" r="8.0"/><circle cx="778.9" cy="118.7" r="7.1"/><circle cx="777.4" cy="120.1" r="8.0"/><circle cx="778.1" cy="120.7" r="6.9"/><circle cx="778.1" cy="123.4" r="6.9"/><circle cx="778.5" cy="124.1" r="8.0"/><circle cx="780.0" cy="125.1" r="7.1"/><circle cx="780.1" cy="128.3" r="7.1"/><circle cx="779.3" cy="129.0" r="7.4"/><circle cx="779.6" cy="130.5" r="7.3"/><circle cx="779.2" cy="131.3" r="7.1"/><circle cx="780.3" cy="133.2" r="7.8"/><circle cx="781.6" cy="134.5" r="7.7"/><circle cx="782.7" cy="135.0" r="6.7"/><circle cx="784.8" cy="136.1" r="6.4"/><circle cx="784.4" cy="137.3" r="6.7"/><circle cx="786.0" cy="138.0" r="7.0"/></g>
<g fill="#38a91e" fill-opacity="0.75"><circle cx="783.4" cy="111.5" r="8.2"/><circle cx="784.0" cy="112.7" r="8.0"/><circle cx="783.3" cy="115.2" r="8.5"/><circle cx="784.8" cy="115.8" r="7.4"/><circle cx="785.0" cy="117.8" r="7.6"/><circle cx="784.6" cy="119.3" r="7.7"/><circle cx="785.8" cy="120.1" r="8.1"/><circle cx="785.9" cy="122.1" r="9.0"/><circle cx="785.8" cy="123.7" r="8.0"/><circle cx="787.0" cy="124.9" r="8.7"/><circle cx="788.2" cy="126.7" r="7.7"/><circle cx="788.3" cy="127.6" r="7.6"/><circle cx="788.7" cy="128.2" r="8.3"/><circle cx="790.6" cy="130.4" r="8.4"/><circle cx="791.0" cy="131.1" r="7.3"/><circle cx="791.3" cy="132.1" r="7.6"/><circle cx="790.5" cy="133.5" r="7.3"/><circle cx="791.1" cy="136.5" r="7.7"/><circle cx="792.1" cy="136.6" r="6.4"/><circle cx="792.6" cy="138.6" r="6.7"/><circle cx="793.4" cy="140.1" r="7.1"/><circle cx="792.9" cy="140.7" r="6.4"/><circle cx="794.1" cy="142.5" r="6.7"/><circle cx="794.2" cy="144.1" r="6.3"/><circle cx="795.6" cy="146.3" r="6.1"/><circle cx="795.7" cy="148.1" r="6.7"/><circle cx="796.6" cy="148.1" r="5.9"/><circle cx="797.2" cy="149.8" r="5.3"/><circle cx="797.5" cy="151.7" r="6.0"/></g>
<g fill="#38a91e" fill-opacity="0.75"><circle cx="790.9" cy="116.7" r="6.2"/><circle cx="790.6" cy="117.5" r="6.4"/><circle cx="790.6" cy="119.1" r="7.1"/><circle cx="791.9" cy="119.3" r="6.6"/><circle cx="791.9" cy="122.2" r="6.1"/><circle cx="793.0" cy="123.1" r="6.2"/><circle cx="794.0" cy="124.0" r="7.0"/></g>
<g fill="#38a91e" fill-opacity="0.75"><circle cx="797.6" cy="139.2" r="5.8"/><circle cx="799.4" cy="139.6" r="5.8"/><circle cx="799.8" cy="138.4" r="6.0"/><circle cx="801.2" cy="136.2" r="5.7"/><circle cx="803.3" cy="135.2" r="5.7"/><circle cx="804.0" cy="135.5" r="6.4"/><circle cx="804.6" cy="134.6" r="6.0"/><circle cx="805.3" cy="132.7" r="6.1"/><circle cx="807.1" cy="131.0" r="5.4"/><circle cx="807.9" cy="129.6" r="6.1"/><circle cx="807.2" cy="128.5" r="5.3"/><circle cx="807.9" cy="128.4" r="5.1"/><circle cx="809.0" cy="125.8" r="5.1"/><circle cx="809.2" cy="124.5" r="5.0"/><circle cx="809.1" cy="123.9" r="5.7"/><circle cx="809.8" cy="121.1" r="5.5"/><circle cx="810.2" cy="121.3" r="5.6"/><circle cx="810.1" cy="119.8" r="5.4"/><circle cx="810.4" cy="117.5" r="4.8"/><circle cx="811.0" cy="116.2" r="4.5"/><circle cx="811.2" cy="115.7" r="4.7"/><circle cx="812.2" cy="117.1" r="5.1"/><circle cx="811.8" cy="118.5" r="5.3"/><circle cx="813.4" cy="119.6" r="5.3"/><circle cx="813.3" cy="120.1" r="5.3"/><circle cx="812.8" cy="122.5" r="4.8"/><circle cx="813.4" cy="123.0" r="5.6"/><circle cx="812.8" cy="125.4" r="5.7"/><circle cx="813.6" cy="125.6" r="5.9"/><circle cx="813.2" cy="128.1" r="5.6"/><circle cx="811.8" cy="129.9" r="5.5"/><circle cx="812.3" cy="130.5" r="5.9"/><circle cx="812.7" cy="132.9" r="5.3"/><circle cx="811.8" cy="133.3" r="5.2"/><circle cx="811.6" cy="134.4" r="6.1"/><circle cx="811.2" cy="135.9" r="5.2"/><circle cx="813.5" cy="135.6" r="5.7"/><circle cx="814.3" cy="136.1" r="6.3"/><circle cx="815.5" cy="135.2" r="6.2"/><circle cx="817.2" cy="135.2" r="6.0"/><circle cx="818.3" cy="134.5" r="5.8"/><circle cx="819.3" cy="133.5" r="6.2"/><circle cx="820.9" cy="132.0" r="5.4"/><circle cx="822.3" cy="131.1" r="5.0"/><circle cx="822.2" cy="129.3" r="5.5"/><circle cx="823.7" cy="127.6" r="5.2"/><circle cx="822.3" cy="129.9" r="4.7"/><circle cx="823.3" cy="131.1" r="4.3"/><circle cx="822.7" cy="133.3" r="4.9"/><circle cx="822.2" cy="133.7" r="4.8"/><circle cx="822.8" cy="135.1" r="4.9"/><circle cx="823.0" cy="137.0" r="4.3"/><circle cx="822.3" cy="139.3" r="4.1"/><circle cx="821.3" cy="139.7" r="4.5"/><circle cx="822.5" cy="140.7" r="4.4"/><circle cx="824.6" cy="140.7" r="4.8"/><circle cx="826.6" cy="142.1" r="4.7"/><circle cx="826.4" cy="143.4" r="4.5"/><circle cx="828.8" cy="144.0" r="4.4"/><circle cx="829.7" cy="141.5" r="4.1"/><circle cx="829.7" cy="141.4" r="5.0"/><circle cx="831.2" cy="139.4" r="5.1"/><circle cx="831.1" cy="137.4" r="4.9"/><circle cx="832.2" cy="136.6" r="4.9"/><circle cx="831.8" cy="135.0" r="4.6"/><circle cx="832.7" cy="134.0" r="4.2"/><circle cx="832.3" cy="132.4" r="4.7"/><circle cx="834.1" cy="130.9" r="4.2"/><circle cx="834.2" cy="130.0" r="4.5"/></g>
<g fill="#38a91e" fill-opacity="0.75"><circle cx="835.3" cy="123.3" r="3.7"/><circle cx="835.3" cy="116.3" r="3.7"/></g>
<g fill="#38a91e" fill-opacity="0.75"><circle cx="835.8" cy="106.9" r="4.1"/><circle cx="836.7" cy="105.6" r="4.1"/><circle cx="836.5" cy="105.2" r="4.2"/><circle cx="836.6" cy="102.9" r="4.3"/><circle cx="837.2" cy="101.2" r="4.4"/><circle cx="836.4" cy="99.8" r="3.7"/><circle cx="836.7" cy="99.2" r="4.2"/></g>
<g fill="#8a8997" fill-opacity="0.95"><circle cx="839.7" cy="78.6" r="4.7"/><circle cx="839.7" cy="79.9" r="5.7"/><circle cx="840.0" cy="81.6" r="5.0"/><circle cx="840.3" cy="81.9" r="5.3"/><circle cx="841.6" cy="83.5" r="5.1"/><circle cx="841.4" cy="84.6" r="5.3"/><circle cx="842.2" cy="86.7" r="5.4"/><circle cx="843.9" cy="86.6" r="6.3"/><circle cx="845.4" cy="87.5" r="5.7"/><circle cx="846.3" cy="86.9" r="5.3"/><circle cx="847.7" cy="85.9" r="6.0"/><circle cx="848.4" cy="88.0" r="5.5"/><circle cx="846.7" cy="89.3" r="5.7"/><circle cx="846.0" cy="90.4" r="5.8"/><circle cx="845.6" cy="91.5" r="5.6"/><circle cx="845.1" cy="93.6" r="5.2"/><circle cx="844.8" cy="95.1" r="4.9"/><circle cx="842.9" cy="96.8" r="5.0"/><circle cx="843.9" cy="99.0" r="4.3"/><circle cx="843.4" cy="100.4" r="4.8"/><circle cx="843.9" cy="101.6" r="4.3"/><circle cx="844.7" cy="102.9" r="4.2"/><circle cx="843.5" cy="103.6" r="4.5"/><circle cx="844.7" cy="104.9" r="3.9"/><circle cx="845.1" cy="104.7" r="4.2"/><circle cx="846.8" cy="103.3" r="4.6"/><circle cx="847.8" cy="102.6" r="4.8"/><circle cx="847.6" cy="101.0" r="5.3"/><circle cx="849.4" cy="99.7" r="5.3"/><circle cx="849.6" cy="98.7" r="6.2"/><circle cx="850.8" cy="97.4" r="5.8"/><circle cx="852.3" cy="96.1" r="6.5"/><circle cx="851.4" cy="97.5" r="5.4"/><circle cx="853.4" cy="98.8" r="5.4"/><circle cx="852.6" cy="100.4" r="5.8"/><circle cx="854.3" cy="103.0" r="5.8"/><circle cx="854.5" cy="104.4" r="4.6"/><circle cx="855.8" cy="104.9" r="4.5"/><circle cx="856.3" cy="104.4" r="4.9"/><circle cx="855.9" cy="103.2" r="5.4"/><circle cx="857.7" cy="102.1" r="4.8"/><circle cx="857.6" cy="99.3" r="5.0"/><circle cx="859.6" cy="99.0" r="5.2"/><circle cx="859.4" cy="96.9" r="6.0"/><circle cx="861.2" cy="97.1" r="5.9"/><circle cx="862.6" cy="94.9" r="6.1"/><circle cx="861.7" cy="95.9" r="6.8"/><circle cx="863.5" cy="98.2" r="5.7"/><circle cx="862.5" cy="98.7" r="5.8"/><circle cx="864.0" cy="99.9" r="6.0"/><circle cx="864.4" cy="101.3" r="5.8"/><circle cx="865.1" cy="103.7" r="5.8"/><circle cx="865.7" cy="105.2" r="5.6"/><circle cx="865.6" cy="104.5" r="6.3"/><circle cx="867.4" cy="102.6" r="5.5"/><circle cx="866.9" cy="101.0" r="6.2"/><circle cx="867.4" cy="100.5" r="6.4"/><circle cx="869.2" cy="97.9" r="6.5"/><circle cx="869.8" cy="97.8" r="6.3"/><circle cx="870.7" cy="98.9" r="6.8"/><circle cx="871.3" cy="101.4" r="6.2"/><circle cx="870.4" cy="101.9" r="5.7"/><circle cx="871.7" cy="104.2" r="6.3"/><circle cx="871.8" cy="106.1" r="6.1"/><circle cx="871.1" cy="107.2" r="5.5"/><circle cx="871.9" cy="107.7" r="6.2"/><circle cx="871.6" cy="109.4" r="6.1"/><circle cx="870.7" cy="112.0" r="5.8"/><circle cx="870.7" cy="113.2" r="5.5"/><circle cx="872.0" cy="114.3" r="5.2"/><circle cx="871.9" cy="114.9" r="5.5"/><circle cx="870.3" cy="116.7" r="4.6"/><circle cx="871.6" cy="118.4" r="5.2"/><circle cx="870.4" cy="120.4" r="4.9"/><circle cx="870.5" cy="121.4" r="5.2"/><circle cx="871.1" cy="123.0" r="4.9"/><circle cx="871.8" cy="124.9" r="5.8"/><circle cx="873.4" cy="125.4" r="5.5"/><circle cx="873.4" cy="127.4" r="5.5"/><circle cx="873.3" cy="128.3" r="6.0"/></g>
<g fill="#38a91e" fill-opacity="0.75"><circle cx="879.0" cy="113.1" r="6.6"/><circle cx="878.8" cy="114.0" r="6.6"/><circle cx="878.8" cy="116.4" r="5.8"/><circle cx="880.9" cy="117.6" r="7.0"/><circle cx="879.9" cy="119.1" r="6.6"/><circle cx="880.7" cy="120.9" r="6.3"/><circle cx="881.7" cy="121.0" r="7.7"/><circle cx="882.9" cy="122.3" r="7.1"/><circle cx="882.6" cy="125.0" r="7.5"/><circle cx="882.8" cy="126.8" r="6.7"/><circle cx="882.9" cy="128.0" r="6.6"/><circle cx="883.5" cy="128.8" r="7.0"/><circle cx="883.9" cy="131.0" r="7.2"/><circle cx="885.5" cy="131.3" r="7.8"/><circle cx="885.5" cy="133.4" r="7.3"/><circle cx="887.8" cy="134.2" r="7.2"/><circle cx="888.1" cy="135.3" r="6.8"/><circle cx="888.3" cy="136.4" r="7.2"/><circle cx="890.3" cy="137.1" r="6.3"/><circle cx="889.7" cy="138.7" r="7.2"/><circle cx="890.3" cy="138.9" r="6.7"/><circle cx="889.4" cy="140.8" r="5.9"/><circle cx="888.4" cy="142.4" r="6.2"/><circle cx="888.4" cy="143.6" r="6.1"/><circle cx="889.0" cy="145.4" r="5.5"/><circle cx="889.0" cy="146.5" r="6.3"/><circle cx="890.3" cy="144.9" r="5.9"/><circle cx="891.4" cy="144.3" r="6.0"/><circle cx="891.3" cy="142.5" r="5.6"/><circle cx="892.1" cy="141.8" r="6.2"/><circle cx="894.0" cy="141.9" r="6.4"/><circle cx="894.8" cy="140.8" r="6.4"/><circle cx="895.6" cy="142.1" r="6.0"/><circle cx="895.9" cy="143.0" r="5.1"/><circle cx="896.7" cy="144.2" r="5.0"/></g>
<g fill="#38a91e" fill-opacity="0.75"><circle cx="886.7" cy="116.7" r="3.5"/></g>
<g fill="#bfe077" fill-opacity="0.80"><circle cx="172.5" cy="294.0" r="6.9"/><circle cx="171.0" cy="296.1" r="6.1"/><circle cx="171.4" cy="299.5" r="5.4"/><circle cx="172.6" cy="302.3" r="6.0"/><circle cx="172.5" cy="305.4" r="6.4"/><circle cx="171.9" cy="306.1" r="5.9"/><circle cx="171.1" cy="310.3" r="6.6"/><circle cx="171.6" cy="311.1" r="6.4"/><circle cx="172.5" cy="314.7" r="6.6"/><circle cx="171.1" cy="316.5" r="5.4"/><circle cx="173.0" cy="318.8" r="6.4"/><circle cx="172.4" cy="322.7" r="6.0"/><circle cx="173.2" cy="324.5" r="6.3"/></g>
<g fill="#bfe077" fill-opacity="0.80"><circle cx="173.7" cy="390.0" r="6.0"/></g>
<g fill="#bfe077" fill-opacity="0.80"><circle cx="224.0" cy="168.3" r="8.0"/><circle cx="226.7" cy="167.6" r="8.7"/><circle cx="229.2" cy="168.5" r="8.6"/><circle cx="229.9" cy="169.4" r="7.9"/><circle cx="232.6" cy="171.7" r="9.0"/><circle cx="235.2" cy="171.9" r="8.4"/><circle cx="232.5" cy="173.5" r="8.7"/><circle cx="231.6" cy="175.2" r="8.5"/><circle cx="230.0" cy="175.2" r="8.7"/><circle cx="229.6" cy="177.8" r="9.1"/><circle cx="228.2" cy="178.8" r="10.3"/><circle cx="226.8" cy="180.1" r="9.5"/><circle cx="226.2" cy="181.9" r="10.3"/><circle cx="227.5" cy="183.5" r="12.1"/><circle cx="226.5" cy="185.3" r="11.7"/><circle cx="226.8" cy="187.7" r="12.8"/><circle cx="226.5" cy="190.3" r="13.4"/><circle cx="227.4" cy="191.9" r="13.3"/><circle cx="228.2" cy="193.1" r="11.0"/><circle cx="227.7" cy="195.3" r="10.8"/><circle cx="229.3" cy="197.3" r="11.2"/><circle cx="229.5" cy="200.1" r="10.8"/><circle cx="229.4" cy="200.8" r="10.8"/><circle cx="231.2" cy="203.4" r="10.8"/><circle cx="230.4" cy="204.0" r="9.9"/><circle cx="232.1" cy="207.0" r="9.8"/><circle cx="232.0" cy="208.0" r="10.6"/><circle cx="231.8" cy="210.1" r="11.1"/><circle cx="232.8" cy="212.9" r="9.8"/><circle cx="233.1" cy="214.9" r="10.9"/><circle cx="232.3" cy="217.8" r="9.5"/><circle cx="232.9" cy="219.0" r="9.9"/><circle cx="232.9" cy="221.6" r="11.6"/><circle cx="233.7" cy="222.9" r="10.9"/><circle cx="233.6" cy="225.2" r="10.9"/><circle cx="234.1" cy="226.9" r="9.5"/><circle cx="234.5" cy="230.4" r="11.3"/><circle cx="233.8" cy="231.7" r="10.3"/><circle cx="234.1" cy="234.0" r="10.3"/><circle cx="235.3" cy="235.5" r="11.1"/><circle cx="235.4" cy="237.9" r="9.4"/><circle cx="235.0" cy="239.3" r="10.5"/><circle cx="235.5" cy="242.0" r="10.9"/><circle cx="234.4" cy="244.1" r="10.3"/><circle cx="234.7" cy="245.3" r="8.7"/><circle cx="235.6" cy="247.9" r="9.1"/><circle cx="236.0" cy="249.1" r="9.6"/><circle cx="235.3" cy="252.1" r="8.9"/><circle cx="235.0" cy="252.4" r="9.2"/><circle cx="236.0" cy="255.0" r="9.0"/></g>
<g fill="#bfe077" fill-opacity="0.80"><circle cx="221.0" cy="223.3" r="8.0"/><circle cx="229.5" cy="260.5" r="8.0"/><circle cx="238.0" cy="255.5" r="8.0"/></g>
<g fill="#38a91e" fill-opacity="0.75"><circle cx="189.0" cy="326.2" r="6.5"/></g>
<g fill="#38a91e" fill-opacity="0.75"><circle cx="188.2" cy="380.2" r="4.9"/><circle cx="188.2" cy="381.8" r="4.9"/><circle cx="187.3" cy="383.2" r="4.9"/><circle cx="186.7" cy="384.1" r="6.0"/><circle cx="188.4" cy="385.5" r="6.1"/><circle cx="188.0" cy="387.9" r="5.8"/><circle cx="188.3" cy="389.0" r="6.3"/><circle cx="187.9" cy="389.6" r="5.8"/><circle cx="187.9" cy="391.3" r="5.6"/><circle cx="188.2" cy="393.2" r="5.4"/><circle cx="188.1" cy="394.5" r="5.8"/><circle cx="188.7" cy="396.0" r="6.0"/></g>
<g fill="#e12d22" fill-opacity="1.00"><circle cx="262.6" cy="265.7" r="11.6"/><circle cx="262.6" cy="268.7" r="11.6"/></g>
<g fill="#c44d28" fill-opacity="1.00"><circle cx="385.8" cy="338.3" r="8.3"/></g>
</g>
</svg>
</body></html>
